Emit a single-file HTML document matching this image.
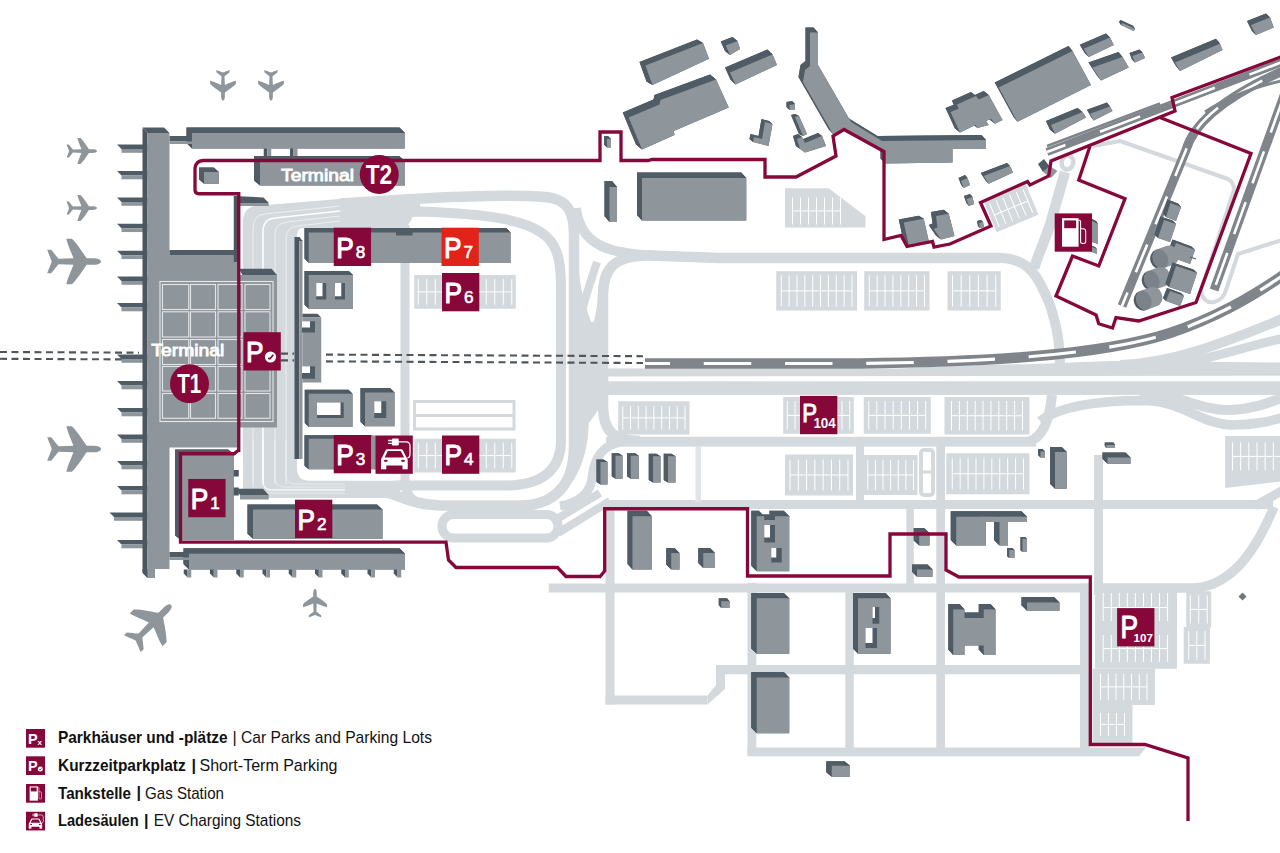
<!DOCTYPE html>
<html><head><meta charset="utf-8"><title>Airport parking map</title>
<style>
html,body{margin:0;padding:0;background:#fff;}
body{width:1280px;height:853px;overflow:hidden;font-family:"Liberation Sans",sans-serif;}
svg{display:block;}
</style></head><body>
<svg width="1280" height="853" viewBox="0 0 1280 853" font-family="Liberation Sans, sans-serif">
<rect width="1280" height="853" fill="#fff"/>
<g id="roads">
<path d="M243,498 L243,222 Q243,206 260,205.5 L345,198.5 L412,194.5 L412,219 L406,228 L303,228 Q297,228 297,236 L297,468 Q297,480 308,480.7 L400,480.7 L400,498 Z" fill="#d3d9dc"/>
<path d="M253,484 L253,229 Q253,215 265,214 L340,206 L398,202.2" stroke="#fff" stroke-opacity="0.60" stroke-width="1.0" fill="none"/>
<path d="M253,440 L253,484 Q253,493 262,493 L345,493" stroke="#fff" stroke-opacity="0.48" stroke-width="1.0" fill="none"/>
<path d="M263,484 L263,232 Q263,219 275,218 L340,211 L398,206.4" stroke="#fff" stroke-opacity="0.95" stroke-width="1.6" fill="none"/>
<path d="M263,440 L263,481 Q263,490 272,490 L345,490" stroke="#fff" stroke-opacity="0.76" stroke-width="1.6" fill="none"/>
<path d="M275,484 L275,235 Q275,223 287,222 L340,216 L398,210.6" stroke="#fff" stroke-opacity="0.60" stroke-width="1.0" fill="none"/>
<path d="M275,440 L275,478 Q275,487 284,487 L345,487" stroke="#fff" stroke-opacity="0.48" stroke-width="1.0" fill="none"/>
<path d="M286,484 L286,238 Q286,227 298,226 L340,221 L398,214.8" stroke="#fff" stroke-opacity="0.60" stroke-width="1.0" fill="none"/>
<path d="M286,440 L286,474 Q286,484 295,484 L345,484" stroke="#fff" stroke-opacity="0.48" stroke-width="1.0" fill="none"/>
<path d="M340,203.5 L405,199.5 C460,195.5 520,195 545,197 C568,199 574,212 574,235 L574,445 C574,485 555,505.5 520,505.5 L440,505.5 C410,505 395,492 375,490" fill="none" stroke="#d3d9dc" stroke-width="10.50" stroke-linecap="butt" stroke-linejoin="round" />
<path d="M340,217 L420,211.5 C490,214 530,220 548,238 C560,250 561,270 561,290 L561,440 C561,472 540,485.5 505,485.5 L395,485.5" fill="none" stroke="#d3d9dc" stroke-width="10.00" stroke-linecap="butt" stroke-linejoin="round" />
<path d="M340,210 L420,205" fill="none" stroke="#d3d9dc" stroke-width="8.00" stroke-linecap="butt" stroke-linejoin="round" />
<path d="M405,225 L405,482 C406,495 412,502 425,505" fill="none" stroke="#d3d9dc" stroke-width="9.00" stroke-linecap="butt" stroke-linejoin="round" />
<path d="M1000,258 L720,258 L650,255.5 C615,255 603,268 603,295 L603,405 C603,430 612,441 640,441" fill="none" stroke="#d3d9dc" stroke-width="10.50" stroke-linecap="butt" stroke-linejoin="round" />
<path d="M655,255.5 C605,254 580,243 576,208" fill="none" stroke="#d3d9dc" stroke-width="10.00" stroke-linecap="butt" stroke-linejoin="round" />
<path d="M603,285 C603,330 587,345 585,380 L584,420 C584,470 560,500 530,505.5" fill="none" stroke="#d3d9dc" stroke-width="9.50" stroke-linecap="butt" stroke-linejoin="round" />
<path d="M574,262 C574,312 598,335 602,385" fill="none" stroke="#d3d9dc" stroke-width="9.50" stroke-linecap="butt" stroke-linejoin="round" />
<path d="M597,262 C588,290 580,310 578,340" fill="none" stroke="#d3d9dc" stroke-width="8.00" stroke-linecap="butt" stroke-linejoin="round" />
<path d="M569,322 L608,322 L608,402 L598,410 L590,422 L569,422 Z" fill="#d3d9dc"/>
<rect x="442" y="514.5" width="116" height="23.5" rx="11.5" fill="none" stroke="#d3d9dc" stroke-width="9"/>
<path d="M552,522 L600,493" fill="none" stroke="#d3d9dc" stroke-width="8.00" stroke-linecap="butt" stroke-linejoin="round" />
<path d="M558,533 L610,501" fill="none" stroke="#d3d9dc" stroke-width="8.00" stroke-linecap="butt" stroke-linejoin="round" />
<path d="M628,441 C602,443 594,458 592,478 C590,495 578,503 560,506" fill="none" stroke="#d3d9dc" stroke-width="9.00" stroke-linecap="butt" stroke-linejoin="round" />
<path d="M604,368.5 L900,368.5 L960,365.5 L1035,364 L1110,361 L1180,361.5 L1280,362.5 L1280,375.8 L604,376.5 Z" fill="#d3d9dc"/>
<rect x="603.00" y="381.30" width="677.00" height="13.60" fill="#d3d9dc" />
<rect x="606.00" y="436.80" width="430.00" height="9.80" fill="#d3d9dc" />
<path d="M1030,441 C1045,436 1050,415 1052,395" fill="none" stroke="#d3d9dc" stroke-width="10.00" stroke-linecap="butt" stroke-linejoin="round" />
<path d="M1040,421 C1060,406 1100,400.5 1145,400.5 C1185,402 1200,424 1232,425 C1255,425 1270,421 1285,417" fill="none" stroke="#d3d9dc" stroke-width="9.50" stroke-linecap="butt" stroke-linejoin="round" />
<rect x="603.00" y="500.00" width="670.00" height="9.00" fill="#d3d9dc" />
<path d="M1255,506 L1285,489" fill="none" stroke="#d3d9dc" stroke-width="9.00" stroke-linecap="butt" stroke-linejoin="round" />
<path d="M1120,365 C1180,362 1230,340 1285,318" fill="none" stroke="#d3d9dc" stroke-width="10.00" stroke-linecap="butt" stroke-linejoin="round" />
<path d="M1170,366 C1215,358 1250,345 1285,338" fill="none" stroke="#d3d9dc" stroke-width="9.00" stroke-linecap="butt" stroke-linejoin="round" />
<path d="M1140,391 C1180,395 1200,410 1228,410 C1250,410 1270,402 1285,397" fill="none" stroke="#d3d9dc" stroke-width="10.00" stroke-linecap="butt" stroke-linejoin="round" />
<path d="M1000,258 C1030,258 1040,280 1050,305 C1058,330 1060,345 1060,370" fill="none" stroke="#d3d9dc" stroke-width="10.00" stroke-linecap="butt" stroke-linejoin="round" />
<path d="M1034,268 C1040,250 1045,240 1050,225 L1065,172" fill="none" stroke="#d3d9dc" stroke-width="10.50" stroke-linecap="butt" stroke-linejoin="round" />
<ellipse cx="1067.5" cy="162.5" rx="5.8" ry="7" fill="#fff" stroke="#d3d9dc" stroke-width="4.5" transform="rotate(15 1067.5 162.5)"/>
<path d="M1093,146 L1120,141 L1228,179 Q1234,182 1234,190 L1201,290 Q1203,304 1214,302 Q1223,300 1226,290 L1238,254 L1285,239" fill="none" stroke="#d3d9dc" stroke-width="4.00" stroke-linecap="butt" stroke-linejoin="round" />
<rect x="548.75" y="583.50" width="541.00" height="9.00" fill="#d3d9dc" />
<rect x="605.50" y="505.00" width="9.00" height="199.50" fill="#d3d9dc" />
<rect x="605.50" y="695.50" width="102.00" height="9.00" fill="#d3d9dc" />
<polygon points="707.50,695.50 716.00,685.00 716.00,665.00 725.00,665.00 725.00,689.00 707.50,704.50" fill="#d3d9dc" />
<rect x="716.00" y="665.00" width="374.00" height="9.30" fill="#d3d9dc" />
<rect x="747.50" y="583.00" width="8.80" height="173.00" fill="#d3d9dc" />
<rect x="747.50" y="747.50" width="392.00" height="8.80" fill="#d3d9dc" />
<polygon points="1139.00,747.50 1146.00,747.50 1139.00,756.30" fill="#d3d9dc" />
<rect x="845.30" y="592.00" width="8.50" height="160.00" fill="#d3d9dc" />
<rect x="936.30" y="446.00" width="8.70" height="305.00" fill="#d3d9dc" />
<rect x="906.30" y="505.00" width="7.50" height="79.00" fill="#d3d9dc" />
<rect x="856.00" y="446.00" width="8.00" height="56.00" fill="#d3d9dc" />
<rect x="1080.00" y="583.50" width="9.50" height="170.00" fill="#d3d9dc" />
<rect x="1094.00" y="455.00" width="9.00" height="140.00" fill="#d3d9dc" />
<rect x="695.50" y="446.00" width="5.50" height="56.00" fill="#e1e5e7" />
<rect x="921" y="450" width="12" height="45" rx="3" fill="#fff" stroke="#d3d9dc" stroke-width="4"/>
<path d="M921,472H933" stroke="#d3d9dc" stroke-width="3"/>
<path d="M1094,588 L1195,588 C1235,585 1258,545 1274,507" fill="none" stroke="#d3d9dc" stroke-width="9.50" stroke-linecap="butt" stroke-linejoin="round" />
</g>
<g id="lots">
<rect x="414.25" y="275.00" width="101.50" height="33.75" fill="#d3d9dc" />
<path d="M418.25,279.00V304.75M426.75,279.00V304.75M435.25,279.00V304.75M443.75,279.00V304.75M452.25,279.00V304.75M460.75,279.00V304.75M469.25,279.00V304.75M477.75,279.00V304.75M486.25,279.00V304.75M494.75,279.00V304.75M503.25,279.00V304.75M511.75,279.00V304.75M418.25,291.88H511.75" stroke="#fff" stroke-width="1" fill="none"/>
<rect x="414.25" y="438.75" width="101.50" height="33.75" fill="#d3d9dc" />
<path d="M418.25,442.75V468.50M426.75,442.75V468.50M435.25,442.75V468.50M443.75,442.75V468.50M452.25,442.75V468.50M460.75,442.75V468.50M469.25,442.75V468.50M477.75,442.75V468.50M486.25,442.75V468.50M494.75,442.75V468.50M503.25,442.75V468.50M511.75,442.75V468.50M418.25,455.62H511.75" stroke="#fff" stroke-width="1" fill="none"/>
<rect x="414.5" y="401.5" width="99.5" height="27.5" fill="#fff" stroke="#d3d9dc" stroke-width="3"/>
<path d="M414,415.5H514" stroke="#d3d9dc" stroke-width="3"/>
<rect x="776.25" y="271.25" width="80.75" height="39.25" fill="#d3d9dc" />
<path d="M781.25,275.25V306.50M789.11,275.25V306.50M796.97,275.25V306.50M804.83,275.25V306.50M812.69,275.25V306.50M820.56,275.25V306.50M828.42,275.25V306.50M836.28,275.25V306.50M844.14,275.25V306.50M852.00,275.25V306.50M781.25,290.88H852.00" stroke="#fff" stroke-width="1" fill="none"/>
<rect x="864.25" y="271.25" width="65.25" height="39.25" fill="#d3d9dc" />
<path d="M869.25,275.25V306.50M877.14,275.25V306.50M885.04,275.25V306.50M892.93,275.25V306.50M900.82,275.25V306.50M908.71,275.25V306.50M916.61,275.25V306.50M924.50,275.25V306.50M869.25,290.88H924.50" stroke="#fff" stroke-width="1" fill="none"/>
<rect x="947.50" y="271.25" width="53.25" height="39.25" fill="#d3d9dc" />
<path d="M952.50,275.25V306.50M961.15,275.25V306.50M969.80,275.25V306.50M978.45,275.25V306.50M987.10,275.25V306.50M995.75,275.25V306.50M952.50,290.88H995.75" stroke="#fff" stroke-width="1" fill="none"/>
<polygon points="785.00,188.25 828.75,188.25 865.50,216.25 865.50,227.50 785.00,227.50" fill="#d3d9dc" />
<path d="M792.50,197.50V224.50M800.50,197.50V224.50M808.50,197.50V224.50M816.50,197.50V224.50M824.50,197.50V224.50M832.50,197.50V224.50M840.50,197.50V224.50M792.50,211.00H840.50" stroke="#fff" stroke-width="1" fill="none"/>
<rect x="618.25" y="401.25" width="71.25" height="33.25" fill="#d3d9dc" />
<path d="M622.75,406.25V429.50M630.53,406.25V429.50M638.31,406.25V429.50M646.09,406.25V429.50M653.88,406.25V429.50M661.66,406.25V429.50M669.44,406.25V429.50M677.22,406.25V429.50M685.00,406.25V429.50M622.75,417.88H685.00" stroke="#fff" stroke-width="1" fill="none"/>
<rect x="783.25" y="397.00" width="70.50" height="36.75" fill="#d3d9dc" />
<path d="M787.25,401.00V429.75M795.06,401.00V429.75M802.88,401.00V429.75M810.69,401.00V429.75M818.50,401.00V429.75M826.31,401.00V429.75M834.12,401.00V429.75M841.94,401.00V429.75M849.75,401.00V429.75M787.25,415.38H849.75" stroke="#fff" stroke-width="1" fill="none"/>
<rect x="863.75" y="397.00" width="67.00" height="36.75" fill="#d3d9dc" />
<path d="M868.75,401.00V429.75M876.89,401.00V429.75M885.04,401.00V429.75M893.18,401.00V429.75M901.32,401.00V429.75M909.46,401.00V429.75M917.61,401.00V429.75M925.75,401.00V429.75M868.75,415.38H925.75" stroke="#fff" stroke-width="1" fill="none"/>
<rect x="944.50" y="397.00" width="85.00" height="37.50" fill="#d3d9dc" />
<path d="M951.50,401.00V430.50M959.39,401.00V430.50M967.28,401.00V430.50M975.17,401.00V430.50M983.06,401.00V430.50M990.94,401.00V430.50M998.83,401.00V430.50M1006.72,401.00V430.50M1014.61,401.00V430.50M1022.50,401.00V430.50M951.50,415.75H1022.50" stroke="#fff" stroke-width="1" fill="none"/>
<rect x="785.00" y="454.50" width="68.00" height="41.00" fill="#d3d9dc" />
<path d="M790.00,459.50V490.50M798.29,459.50V490.50M806.57,459.50V490.50M814.86,459.50V490.50M823.14,459.50V490.50M831.43,459.50V490.50M839.71,459.50V490.50M848.00,459.50V490.50M790.00,475.00H848.00" stroke="#fff" stroke-width="1" fill="none"/>
<rect x="863.75" y="455.00" width="53.75" height="40.00" fill="#d3d9dc" />
<path d="M867.75,460.00V490.00M875.38,460.00V490.00M883.00,460.00V490.00M890.62,460.00V490.00M898.25,460.00V490.00M905.88,460.00V490.00M913.50,460.00V490.00M867.75,475.00H913.50" stroke="#fff" stroke-width="1" fill="none"/>
<rect x="946.25" y="453.25" width="83.25" height="41.00" fill="#d3d9dc" />
<path d="M952.25,458.25V489.25M960.17,458.25V489.25M968.08,458.25V489.25M976.00,458.25V489.25M983.92,458.25V489.25M991.83,458.25V489.25M999.75,458.25V489.25M1007.67,458.25V489.25M1015.58,458.25V489.25M1023.50,458.25V489.25M952.25,473.75H1023.50" stroke="#fff" stroke-width="1" fill="none"/>
<polygon points="1225.20,436.00 1280.00,436.00 1280.00,481.50 1225.20,488.00" fill="#d3d9dc" />
<path d="M1232.50,442.25V470.50M1240.67,442.25V470.50M1248.83,442.25V470.50M1257.00,442.25V470.50M1265.17,442.25V470.50M1273.33,442.25V470.50M1281.50,442.25V470.50M1232.50,456.38H1281.50" stroke="#fff" stroke-width="1" fill="none"/>
<rect x="1095.00" y="591.25" width="82.00" height="77.50" fill="#d3d9dc" />
<path d="M1103.20,593V621M1103.20,635V662M1111.25,593V621M1111.25,635V662M1119.30,593V621M1119.30,635V662M1127.35,593V621M1127.35,635V662M1135.40,593V621M1135.40,635V662M1143.45,593V621M1143.45,635V662M1151.50,593V621M1151.50,635V662M1159.55,593V621M1159.55,635V662M1167.60,593V621M1167.60,635V662M1103.2,607.5H1167.6M1103.2,648.6H1167.6" stroke="#fff" stroke-width="1" fill="none"/>
<rect x="1092.50" y="668.75" width="62.50" height="36.25" fill="#d3d9dc" />
<path d="M1100.50,673.75V700.00M1108.25,673.75V700.00M1116.00,673.75V700.00M1123.75,673.75V700.00M1131.50,673.75V700.00M1139.25,673.75V700.00M1147.00,673.75V700.00M1100.50,686.88H1147.00" stroke="#fff" stroke-width="1" fill="none"/>
<rect x="1092.50" y="705.00" width="40.00" height="38.75" fill="#d3d9dc" />
<path d="M1100.50,713.00V735.75M1108.50,713.00V735.75M1116.50,713.00V735.75M1124.50,713.00V735.75M1100.50,724.38H1124.50" stroke="#fff" stroke-width="1" fill="none"/>
<rect x="1186.25" y="591.25" width="25.00" height="36.25" fill="#d3d9dc" />
<path d="M1190.25,595.25V623.50M1198.75,595.25V623.50M1207.25,595.25V623.50M1190.25,609.38H1207.25" stroke="#fff" stroke-width="1" fill="none"/>
<rect x="1183.75" y="627.00" width="26.25" height="36.75" fill="#d3d9dc" />
<path d="M1188.75,631.00V659.75M1196.88,631.00V659.75M1205.00,631.00V659.75M1188.75,645.38H1205.00" stroke="#fff" stroke-width="1" fill="none"/>
<g transform="translate(983.75,201.25) rotate(-22.7)">
<rect x="0.00" y="0.00" width="45.30" height="33.50" fill="#d3d9dc" />
<path d="M4.50,4.00V29.50M11.76,4.00V29.50M19.02,4.00V29.50M26.28,4.00V29.50M33.54,4.00V29.50M40.80,4.00V29.50M4.50,16.75H40.80" stroke="#fff" stroke-width="1" fill="none"/>
</g>
</g>
<g id="rail">
<path d="M0,352 L139,352.7 M281,353.6H294 M326,354.6 L643,356.2 M0,358.8 L139,359.5 M281,360.4H294 M326,361.4 L643,363" stroke="#4f5559" stroke-width="2.1" stroke-dasharray="7 4.5" fill="none"/>
<path d="M645,363.5 L860,363.5 C980,362 1100,356 1170,333 C1215,318 1250,298 1285,274" fill="none" stroke="#7f858b" stroke-width="10.50" stroke-linecap="butt" stroke-linejoin="round" />
<path d="M645,363.5 L860,363.5 C980,362 1100,356 1170,333 C1215,318 1250,298 1285,274" fill="none" stroke="#fff" stroke-width="3.20" stroke-linecap="butt" stroke-linejoin="round" stroke-dasharray="47.5 33.75" stroke-dashoffset="22.5"/>
<path d="M1047,152 L1285,61" fill="none" stroke="#7f858b" stroke-width="8.00" stroke-linecap="butt" stroke-linejoin="round" />
<path d="M1047,152 L1285,61" fill="none" stroke="#fff" stroke-width="2.60" stroke-linecap="butt" stroke-linejoin="round" stroke-dasharray="43 37" stroke-dashoffset="23.3"/>
<path d="M1047,146 L1160,103.5" fill="none" stroke="#7f858b" stroke-width="2.50" stroke-linecap="butt" stroke-linejoin="round" />
<path d="M1285,70 C1235,92 1195,118 1186,150 L1122,306" fill="none" stroke="#7f858b" stroke-width="9.00" stroke-linecap="butt" stroke-linejoin="round" />
<path d="M1285,70 C1235,92 1195,118 1186,150 L1122,306" fill="none" stroke="#fff" stroke-width="2.60" stroke-linecap="butt" stroke-linejoin="round" stroke-dasharray="30 22" stroke-dashoffset="-25"/>
<path d="M1285,80 C1250,88 1225,98 1205,112" fill="none" stroke="#7f858b" stroke-width="3.00" stroke-linecap="butt" stroke-linejoin="round" />
<path d="M1285,93 L1214,290" fill="none" stroke="#7f858b" stroke-width="9.00" stroke-linecap="butt" stroke-linejoin="round" />
<path d="M1285,93 L1214,290" fill="none" stroke="#fff" stroke-width="2.60" stroke-linecap="butt" stroke-linejoin="round" stroke-dasharray="34 20" stroke-dashoffset="-8"/>
</g>
<g id="bld">
<polygon points="192.00,133.00 405.00,133.00 399.50,127.50 186.50,127.50" fill="#505c65" />
<polygon points="405.00,133.00 405.00,148.50 399.50,143.00 399.50,127.50" fill="#4b5660" />
<polygon points="405.00,148.50 192.00,148.50 186.50,143.00 399.50,143.00" fill="#505c65" />
<polygon points="192.00,148.50 192.00,133.00 186.50,127.50 186.50,143.00" fill="#4b5660" />
<polygon points="186.50,127.50 399.50,127.50 399.50,143.00 186.50,143.00" fill="#505c65" />
<polygon points="192.00,133.00 405.00,133.00 405.00,148.50 192.00,148.50" fill="#8f969b" />
<rect x="169.50" y="136.00" width="22.50" height="5.50" fill="#505c65" />
<rect x="169.50" y="141.50" width="22.50" height="2.50" fill="#8f969b" />
<rect x="263.75" y="148.50" width="3.50" height="10.50" fill="#4b5660" />
<rect x="267.25" y="148.50" width="4.00" height="10.50" fill="#8f969b" />
<rect x="290.00" y="148.50" width="3.50" height="10.50" fill="#4b5660" />
<rect x="293.50" y="148.50" width="4.00" height="10.50" fill="#8f969b" />
<polygon points="260.00,161.00 405.00,161.00 399.00,156.00 254.00,156.00" fill="#505c65" />
<polygon points="405.00,161.00 405.00,185.50 399.00,180.50 399.00,156.00" fill="#4b5660" />
<polygon points="405.00,185.50 260.00,185.50 254.00,180.50 399.00,180.50" fill="#505c65" />
<polygon points="260.00,185.50 260.00,161.00 254.00,156.00 254.00,180.50" fill="#4b5660" />
<polygon points="254.00,156.00 399.00,156.00 399.00,180.50 254.00,180.50" fill="#505c65" />
<polygon points="260.00,161.00 405.00,161.00 405.00,185.50 260.00,185.50" fill="#8f969b" />
<polygon points="204.00,172.00 218.75,172.00 213.75,167.50 199.00,167.50" fill="#505c65" />
<polygon points="218.75,172.00 218.75,183.75 213.75,179.25 213.75,167.50" fill="#4b5660" />
<polygon points="218.75,183.75 204.00,183.75 199.00,179.25 213.75,179.25" fill="#505c65" />
<polygon points="204.00,183.75 204.00,172.00 199.00,167.50 199.00,179.25" fill="#4b5660" />
<polygon points="199.00,167.50 213.75,167.50 213.75,179.25 199.00,179.25" fill="#505c65" />
<polygon points="204.00,172.00 218.75,172.00 218.75,183.75 204.00,183.75" fill="#8f969b" />
<polygon points="117.00,144.50 147.50,144.50 147.50,149.00 121.50,149.00" fill="#505c65" />
<rect x="121.50" y="149.00" width="26.00" height="3.80" fill="#8f969b" />
<polygon points="117.00,171.00 147.50,171.00 147.50,175.50 121.50,175.50" fill="#505c65" />
<rect x="121.50" y="175.50" width="26.00" height="3.80" fill="#8f969b" />
<polygon points="117.00,197.50 147.50,197.50 147.50,202.00 121.50,202.00" fill="#505c65" />
<rect x="121.50" y="202.00" width="26.00" height="3.80" fill="#8f969b" />
<polygon points="117.00,223.75 147.50,223.75 147.50,228.25 121.50,228.25" fill="#505c65" />
<rect x="121.50" y="228.25" width="26.00" height="3.80" fill="#8f969b" />
<polygon points="117.00,250.75 147.50,250.75 147.50,255.25 121.50,255.25" fill="#505c65" />
<rect x="121.50" y="255.25" width="26.00" height="3.80" fill="#8f969b" />
<polygon points="117.00,276.50 147.50,276.50 147.50,281.00 121.50,281.00" fill="#505c65" />
<rect x="121.50" y="281.00" width="26.00" height="3.80" fill="#8f969b" />
<polygon points="117.00,303.00 147.50,303.00 147.50,307.50 121.50,307.50" fill="#505c65" />
<rect x="121.50" y="307.50" width="26.00" height="3.80" fill="#8f969b" />
<polygon points="117.00,354.50 147.50,354.50 147.50,359.00 121.50,359.00" fill="#505c65" />
<rect x="121.50" y="359.00" width="26.00" height="3.80" fill="#8f969b" />
<polygon points="117.00,381.00 147.50,381.00 147.50,385.50 121.50,385.50" fill="#505c65" />
<rect x="121.50" y="385.50" width="26.00" height="3.80" fill="#8f969b" />
<polygon points="117.00,408.00 147.50,408.00 147.50,412.50 121.50,412.50" fill="#505c65" />
<rect x="121.50" y="412.50" width="26.00" height="3.80" fill="#8f969b" />
<polygon points="117.00,434.50 147.50,434.50 147.50,439.00 121.50,439.00" fill="#505c65" />
<rect x="121.50" y="439.00" width="26.00" height="3.80" fill="#8f969b" />
<polygon points="117.00,461.00 147.50,461.00 147.50,465.50 121.50,465.50" fill="#505c65" />
<rect x="121.50" y="465.50" width="26.00" height="3.80" fill="#8f969b" />
<polygon points="117.00,486.00 147.50,486.00 147.50,490.50 121.50,490.50" fill="#505c65" />
<rect x="121.50" y="490.50" width="26.00" height="3.80" fill="#8f969b" />
<polygon points="109.50,512.50 147.50,512.50 147.50,517.00 114.00,517.00" fill="#505c65" />
<rect x="114.00" y="517.00" width="33.50" height="3.80" fill="#8f969b" />
<polygon points="117.00,540.00 147.50,540.00 147.50,544.50 121.50,544.50" fill="#505c65" />
<rect x="121.50" y="544.50" width="26.00" height="3.80" fill="#8f969b" />
<polygon points="142.50,127.50 164.00,127.50 169.50,133.00 147.50,133.00" fill="#505c65" />
<polygon points="142.50,127.50 147.50,133.00 147.50,578.00 142.50,572.00" fill="#4b5660" />
<rect x="147.50" y="133.00" width="22.00" height="436.00" fill="#8f969b" />
<rect x="147.50" y="569.00" width="7.50" height="9.00" fill="#8f969b" />
<polygon points="142.50,569.00 147.50,569.00 147.50,578.00 142.50,573.00" fill="#4b5660" />
<rect x="169.50" y="250.00" width="69.00" height="5.00" fill="#505c65" />
<rect x="168.50" y="255.00" width="70.50" height="192.50" fill="#8f969b" />
<polygon points="238.75,268.75 271.50,268.75 277.00,275.00 242.50,275.00" fill="#505c65" />
<rect x="238.75" y="275.00" width="38.25" height="152.50" fill="#8f969b" />
<polygon points="233.75,196.00 263.50,197.50 268.75,203.00 238.75,203.00" fill="#505c65" />
<rect x="238.75" y="203.00" width="30.00" height="3.00" fill="#8f969b" />
<rect x="233.75" y="196.00" width="5.00" height="66.00" fill="#4b5660" />
<rect x="160" y="281.5" width="113" height="140" fill="none" stroke="#e6e9eb" stroke-width="1.1"/>
<rect x="162.50" y="284.50" width="26.25" height="25.00" fill="none" stroke="#e3e6e8" stroke-width="1.1"/>
<rect x="162.50" y="311.80" width="26.25" height="25.20" fill="none" stroke="#e3e6e8" stroke-width="1.1"/>
<rect x="162.50" y="339.50" width="26.25" height="25.00" fill="none" stroke="#e3e6e8" stroke-width="1.1"/>
<rect x="162.50" y="366.50" width="26.25" height="24.50" fill="none" stroke="#e3e6e8" stroke-width="1.1"/>
<rect x="162.50" y="393.50" width="26.25" height="24.80" fill="none" stroke="#e3e6e8" stroke-width="1.1"/>
<rect x="190.50" y="284.50" width="25.00" height="25.00" fill="none" stroke="#e3e6e8" stroke-width="1.1"/>
<rect x="190.50" y="311.80" width="25.00" height="25.20" fill="none" stroke="#e3e6e8" stroke-width="1.1"/>
<rect x="190.50" y="339.50" width="25.00" height="25.00" fill="none" stroke="#e3e6e8" stroke-width="1.1"/>
<rect x="190.50" y="366.50" width="25.00" height="24.50" fill="none" stroke="#e3e6e8" stroke-width="1.1"/>
<rect x="190.50" y="393.50" width="25.00" height="24.80" fill="none" stroke="#e3e6e8" stroke-width="1.1"/>
<rect x="218.00" y="284.50" width="24.00" height="25.00" fill="none" stroke="#e3e6e8" stroke-width="1.1"/>
<rect x="218.00" y="311.80" width="24.00" height="25.20" fill="none" stroke="#e3e6e8" stroke-width="1.1"/>
<rect x="218.00" y="339.50" width="24.00" height="25.00" fill="none" stroke="#e3e6e8" stroke-width="1.1"/>
<rect x="218.00" y="366.50" width="24.00" height="24.50" fill="none" stroke="#e3e6e8" stroke-width="1.1"/>
<rect x="218.00" y="393.50" width="24.00" height="24.80" fill="none" stroke="#e3e6e8" stroke-width="1.1"/>
<rect x="245.00" y="284.50" width="25.00" height="25.00" fill="none" stroke="#e3e6e8" stroke-width="1.1"/>
<rect x="245.00" y="311.80" width="25.00" height="25.20" fill="none" stroke="#e3e6e8" stroke-width="1.1"/>
<rect x="245.00" y="339.50" width="25.00" height="25.00" fill="none" stroke="#e3e6e8" stroke-width="1.1"/>
<rect x="245.00" y="366.50" width="25.00" height="24.50" fill="none" stroke="#e3e6e8" stroke-width="1.1"/>
<rect x="245.00" y="393.50" width="25.00" height="24.80" fill="none" stroke="#e3e6e8" stroke-width="1.1"/>
<polygon points="181.00,454.00 234.00,454.00 228.00,449.50 175.00,449.50" fill="#505c65" />
<polygon points="234.00,454.00 234.00,540.00 228.00,535.50 228.00,449.50" fill="#4b5660" />
<polygon points="234.00,540.00 181.00,540.00 175.00,535.50 228.00,535.50" fill="#505c65" />
<polygon points="181.00,540.00 181.00,454.00 175.00,449.50 175.00,535.50" fill="#4b5660" />
<polygon points="175.00,449.50 228.00,449.50 228.00,535.50 175.00,535.50" fill="#505c65" />
<polygon points="181.00,454.00 234.00,454.00 234.00,540.00 181.00,540.00" fill="#8f969b" />
<rect x="233.75" y="470.00" width="5.00" height="6.50" fill="#4b5660" />
<rect x="233.75" y="487.50" width="5.00" height="8.00" fill="#4b5660" />
<polygon points="235.00,488.75 263.00,488.75 268.75,495.00 240.00,495.00" fill="#505c65" />
<rect x="240.00" y="495.00" width="28.75" height="4.50" fill="#8f969b" />
<polygon points="189.00,553.75 405.00,553.75 399.50,548.25 183.50,548.25" fill="#505c65" />
<polygon points="405.00,553.75 405.00,569.50 399.50,564.00 399.50,548.25" fill="#4b5660" />
<polygon points="405.00,569.50 189.00,569.50 183.50,564.00 399.50,564.00" fill="#505c65" />
<polygon points="189.00,569.50 189.00,553.75 183.50,548.25 183.50,564.00" fill="#4b5660" />
<polygon points="183.50,548.25 399.50,548.25 399.50,564.00 183.50,564.00" fill="#505c65" />
<polygon points="189.00,553.75 405.00,553.75 405.00,569.50 189.00,569.50" fill="#8f969b" />
<rect x="169.50" y="552.00" width="19.50" height="5.50" fill="#505c65" />
<rect x="169.50" y="557.50" width="19.50" height="2.50" fill="#8f969b" />
<polygon points="183.75,569.50 187.55,569.50 187.55,577.50 183.75,573.50" fill="#4b5660" />
<rect x="187.55" y="569.50" width="3.70" height="8.00" fill="#8f969b" />
<polygon points="210.00,569.50 213.80,569.50 213.80,577.50 210.00,573.50" fill="#4b5660" />
<rect x="213.80" y="569.50" width="3.70" height="8.00" fill="#8f969b" />
<polygon points="236.25,569.50 240.05,569.50 240.05,577.50 236.25,573.50" fill="#4b5660" />
<rect x="240.05" y="569.50" width="3.70" height="8.00" fill="#8f969b" />
<polygon points="262.50,569.50 266.30,569.50 266.30,577.50 262.50,573.50" fill="#4b5660" />
<rect x="266.30" y="569.50" width="3.70" height="8.00" fill="#8f969b" />
<polygon points="288.75,569.50 292.55,569.50 292.55,577.50 288.75,573.50" fill="#4b5660" />
<rect x="292.55" y="569.50" width="3.70" height="8.00" fill="#8f969b" />
<polygon points="315.00,569.50 318.80,569.50 318.80,577.50 315.00,573.50" fill="#4b5660" />
<rect x="318.80" y="569.50" width="3.70" height="8.00" fill="#8f969b" />
<polygon points="341.25,569.50 345.05,569.50 345.05,577.50 341.25,573.50" fill="#4b5660" />
<rect x="345.05" y="569.50" width="3.70" height="8.00" fill="#8f969b" />
<polygon points="367.50,569.50 371.30,569.50 371.30,577.50 367.50,573.50" fill="#4b5660" />
<rect x="371.30" y="569.50" width="3.70" height="8.00" fill="#8f969b" />
<polygon points="393.75,569.50 397.55,569.50 397.55,577.50 393.75,573.50" fill="#4b5660" />
<rect x="397.55" y="569.50" width="3.70" height="8.00" fill="#8f969b" />
<polygon points="253.00,509.50 382.50,509.50 377.00,504.50 247.50,504.50" fill="#505c65" />
<polygon points="382.50,509.50 382.50,538.75 377.00,533.75 377.00,504.50" fill="#4b5660" />
<polygon points="382.50,538.75 253.00,538.75 247.50,533.75 377.00,533.75" fill="#505c65" />
<polygon points="253.00,538.75 253.00,509.50 247.50,504.50 247.50,533.75" fill="#4b5660" />
<polygon points="247.50,504.50 377.00,504.50 377.00,533.75 247.50,533.75" fill="#505c65" />
<polygon points="253.00,509.50 382.50,509.50 382.50,538.75 253.00,538.75" fill="#8f969b" />
<polygon points="308.75,232.50 510.50,232.50 506.25,228.00 304.50,228.00" fill="#505c65" />
<polygon points="510.50,232.50 510.50,263.00 506.25,258.50 506.25,228.00" fill="#4b5660" />
<polygon points="510.50,263.00 308.75,263.00 304.50,258.50 506.25,258.50" fill="#505c65" />
<polygon points="308.75,263.00 308.75,232.50 304.50,228.00 304.50,258.50" fill="#4b5660" />
<polygon points="304.50,228.00 506.25,228.00 506.25,258.50 304.50,258.50" fill="#505c65" />
<polygon points="308.75,232.50 510.50,232.50 510.50,263.00 308.75,263.00" fill="#8f969b" />
<rect x="396.00" y="229.00" width="16.50" height="6.50" fill="#505c65" />
<polygon points="308.75,275.00 353.00,275.00 348.75,271.00 304.50,271.00" fill="#505c65" />
<polygon points="353.00,275.00 353.00,308.75 348.75,304.75 348.75,271.00" fill="#4b5660" />
<polygon points="353.00,308.75 308.75,308.75 304.50,304.75 348.75,304.75" fill="#505c65" />
<polygon points="308.75,308.75 308.75,275.00 304.50,271.00 304.50,304.75" fill="#4b5660" />
<polygon points="304.50,271.00 348.75,271.00 348.75,304.75 304.50,304.75" fill="#505c65" />
<polygon points="308.75,275.00 353.00,275.00 353.00,308.75 308.75,308.75" fill="#8f969b" />
<rect x="316.25" y="283.00" width="10.00" height="16.50" fill="#505c65" />
<rect x="316.25" y="283.00" width="6.25" height="13.25" fill="#fff" />
<rect x="335.00" y="283.00" width="10.00" height="16.50" fill="#505c65" />
<rect x="335.00" y="283.00" width="6.25" height="13.25" fill="#fff" />
<rect x="294.50" y="237.00" width="4.75" height="222.00" fill="#4b5660" />
<rect x="299.25" y="240.00" width="3.25" height="219.00" fill="#8f969b" />
<polygon points="294.50,237.00 299.50,237.00 302.50,241.00 299.25,241.00" fill="#505c65" />
<polygon points="302.50,313.75 317.50,313.75 321.25,317.50 302.50,317.50" fill="#505c65" />
<rect x="302.50" y="317.50" width="18.75" height="65.00" fill="#8f969b" />
<rect x="302.00" y="321.25" width="13.00" height="11.25" fill="#505c65" />
<rect x="302.00" y="321.25" width="8.00" height="6.25" fill="#fff" />
<rect x="302.00" y="366.25" width="13.00" height="12.50" fill="#505c65" />
<rect x="302.00" y="366.25" width="8.00" height="6.75" fill="#fff" />
<polygon points="308.75,393.75 352.50,393.75 348.50,389.75 304.75,389.75" fill="#505c65" />
<polygon points="352.50,393.75 352.50,427.00 348.50,423.00 348.50,389.75" fill="#4b5660" />
<polygon points="352.50,427.00 308.75,427.00 304.75,423.00 348.50,423.00" fill="#505c65" />
<polygon points="308.75,427.00 308.75,393.75 304.75,389.75 304.75,423.00" fill="#4b5660" />
<polygon points="304.75,389.75 348.50,389.75 348.50,423.00 304.75,423.00" fill="#505c65" />
<polygon points="308.75,393.75 352.50,393.75 352.50,427.00 308.75,427.00" fill="#8f969b" />
<rect x="317.00" y="402.50" width="26.75" height="15.50" fill="#505c65" />
<rect x="317.00" y="402.50" width="23.50" height="12.50" fill="#fff" />
<polygon points="365.00,392.50 394.50,392.50 390.00,388.00 360.50,388.00" fill="#505c65" />
<polygon points="394.50,392.50 394.50,426.25 390.00,421.75 390.00,388.00" fill="#4b5660" />
<polygon points="394.50,426.25 365.00,426.25 360.50,421.75 390.00,421.75" fill="#505c65" />
<polygon points="365.00,426.25 365.00,392.50 360.50,388.00 360.50,421.75" fill="#4b5660" />
<polygon points="360.50,388.00 390.00,388.00 390.00,421.75 360.50,421.75" fill="#505c65" />
<polygon points="365.00,392.50 394.50,392.50 394.50,426.25 365.00,426.25" fill="#8f969b" />
<rect x="374.25" y="401.25" width="12.00" height="16.75" fill="#505c65" />
<rect x="374.25" y="401.25" width="7.00" height="11.75" fill="#fff" />
<polygon points="308.75,438.75 376.00,438.75 371.75,435.25 304.50,435.25" fill="#505c65" />
<polygon points="376.00,438.75 376.00,469.25 371.75,465.75 371.75,435.25" fill="#4b5660" />
<polygon points="376.00,469.25 308.75,469.25 304.50,465.75 371.75,465.75" fill="#505c65" />
<polygon points="308.75,469.25 308.75,438.75 304.50,435.25 304.50,465.75" fill="#4b5660" />
<polygon points="304.50,435.25 371.75,435.25 371.75,465.75 304.50,465.75" fill="#505c65" />
<polygon points="308.75,438.75 376.00,438.75 376.00,469.25 308.75,469.25" fill="#8f969b" />
<rect x="369.00" y="435.50" width="7.00" height="30.00" fill="#8f969b" />
</g>
<g id="bld2">
<polygon points="645.50,65.50 703.00,43.00 697.00,39.50 639.50,62.00" fill="#505c65" />
<polygon points="703.00,43.00 709.00,58.75 703.00,55.25 697.00,39.50" fill="#4b5660" />
<polygon points="709.00,58.75 652.50,85.00 646.50,81.50 703.00,55.25" fill="#505c65" />
<polygon points="652.50,85.00 645.50,65.50 639.50,62.00 646.50,81.50" fill="#4b5660" />
<polygon points="639.50,62.00 697.00,39.50 703.00,55.25 646.50,81.50" fill="#505c65" />
<polygon points="645.50,65.50 703.00,43.00 709.00,58.75 652.50,85.00" fill="#8f969b" />
<polygon points="628.75,117.50 659.50,104.50 653.50,99.50 622.75,112.50" fill="#505c65" />
<polygon points="659.50,104.50 660.50,100.00 654.50,95.00 653.50,99.50" fill="#4b5660" />
<polygon points="660.50,100.00 716.00,79.50 710.00,74.50 654.50,95.00" fill="#505c65" />
<polygon points="716.00,79.50 728.75,107.50 722.75,102.50 710.00,74.50" fill="#4b5660" />
<polygon points="728.75,107.50 673.75,131.00 667.75,126.00 722.75,102.50" fill="#505c65" />
<polygon points="673.75,131.00 674.50,135.00 668.50,130.00 667.75,126.00" fill="#4b5660" />
<polygon points="674.50,135.00 642.00,149.50 636.00,144.50 668.50,130.00" fill="#505c65" />
<polygon points="642.00,149.50 628.75,117.50 622.75,112.50 636.00,144.50" fill="#4b5660" />
<polygon points="622.75,112.50 653.50,99.50 654.50,95.00 710.00,74.50 722.75,102.50 667.75,126.00 668.50,130.00 636.00,144.50" fill="#505c65" />
<polygon points="628.75,117.50 659.50,104.50 660.50,100.00 716.00,79.50 728.75,107.50 673.75,131.00 674.50,135.00 642.00,149.50" fill="#8f969b" />
<polygon points="725.75,45.50 737.50,41.00 732.50,37.00 720.75,41.50" fill="#505c65" />
<polygon points="737.50,41.00 740.00,49.00 735.00,45.00 732.50,37.00" fill="#4b5660" />
<polygon points="740.00,49.00 730.00,55.00 725.00,51.00 735.00,45.00" fill="#505c65" />
<polygon points="730.00,55.00 725.75,45.50 720.75,41.50 725.00,51.00" fill="#4b5660" />
<polygon points="720.75,41.50 732.50,37.00 735.00,45.00 725.00,51.00" fill="#505c65" />
<polygon points="725.75,45.50 737.50,41.00 740.00,49.00 730.00,55.00" fill="#8f969b" />
<polygon points="730.00,72.50 772.50,54.50 767.50,49.50 725.00,67.50" fill="#505c65" />
<polygon points="772.50,54.50 777.00,65.00 772.00,60.00 767.50,49.50" fill="#4b5660" />
<polygon points="777.00,65.00 735.50,84.50 730.50,79.50 772.00,60.00" fill="#505c65" />
<polygon points="735.50,84.50 730.00,72.50 725.00,67.50 730.50,79.50" fill="#4b5660" />
<polygon points="725.00,67.50 767.50,49.50 772.00,60.00 730.50,79.50" fill="#505c65" />
<polygon points="730.00,72.50 772.50,54.50 777.00,65.00 735.50,84.50" fill="#8f969b" />
<polygon points="810.00,32.50 818.00,32.50 813.50,27.50 805.50,27.50" fill="#505c65" />
<polygon points="818.00,32.50 818.00,65.00 813.50,60.00 813.50,27.50" fill="#4b5660" />
<polygon points="818.00,65.00 851.00,122.00 846.50,117.00 813.50,60.00" fill="#4b5660" />
<polygon points="851.00,122.00 882.00,141.00 877.50,136.00 846.50,117.00" fill="#505c65" />
<polygon points="882.00,141.00 986.00,140.00 981.50,135.00 877.50,136.00" fill="#505c65" />
<polygon points="986.00,140.00 986.00,149.00 981.50,144.00 981.50,135.00" fill="#4b5660" />
<polygon points="986.00,149.00 952.50,149.00 948.00,144.00 981.50,144.00" fill="#505c65" />
<polygon points="952.50,149.00 952.50,162.50 948.00,157.50 948.00,144.00" fill="#4b5660" />
<polygon points="952.50,162.50 885.00,163.50 880.50,158.50 948.00,157.50" fill="#505c65" />
<polygon points="885.00,163.50 885.00,152.00 880.50,147.00 880.50,158.50" fill="#4b5660" />
<polygon points="885.00,152.00 844.00,129.50 839.50,124.50 880.50,147.00" fill="#505c65" />
<polygon points="844.00,129.50 833.00,134.00 828.50,129.00 839.50,124.50" fill="#505c65" />
<polygon points="833.00,134.00 803.00,82.00 798.50,77.00 828.50,129.00" fill="#4b5660" />
<polygon points="803.00,82.00 805.00,70.00 800.50,65.00 798.50,77.00" fill="#4b5660" />
<polygon points="805.00,70.00 810.00,66.00 805.50,61.00 800.50,65.00" fill="#505c65" />
<polygon points="810.00,66.00 810.00,32.50 805.50,27.50 805.50,61.00" fill="#4b5660" />
<polygon points="805.50,27.50 813.50,27.50 813.50,60.00 846.50,117.00 877.50,136.00 981.50,135.00 981.50,144.00 948.00,144.00 948.00,157.50 880.50,158.50 880.50,147.00 839.50,124.50 828.50,129.00 798.50,77.00 800.50,65.00 805.50,61.00" fill="#505c65" />
<polygon points="810.00,32.50 818.00,32.50 818.00,65.00 851.00,122.00 882.00,141.00 986.00,140.00 986.00,149.00 952.50,149.00 952.50,162.50 885.00,163.50 885.00,152.00 844.00,129.50 833.00,134.00 803.00,82.00 805.00,70.00 810.00,66.00" fill="#8f969b" />
<polygon points="789.50,105.00 795.00,104.00 792.00,101.00 786.50,102.00" fill="#505c65" />
<polygon points="795.00,104.00 795.00,110.00 792.00,107.00 792.00,101.00" fill="#4b5660" />
<polygon points="795.00,110.00 789.50,110.00 786.50,107.00 792.00,107.00" fill="#505c65" />
<polygon points="789.50,110.00 789.50,105.00 786.50,102.00 786.50,107.00" fill="#4b5660" />
<polygon points="786.50,102.00 792.00,101.00 792.00,107.00 786.50,107.00" fill="#505c65" />
<polygon points="789.50,105.00 795.00,104.00 795.00,110.00 789.50,110.00" fill="#8f969b" />
<polygon points="765.00,122.00 772.50,124.00 769.00,121.00 761.50,119.00" fill="#505c65" />
<polygon points="772.50,124.00 768.50,146.00 765.00,143.00 769.00,121.00" fill="#4b5660" />
<polygon points="768.50,146.00 753.00,142.00 749.50,139.00 765.00,143.00" fill="#505c65" />
<polygon points="753.00,142.00 754.00,137.00 750.50,134.00 749.50,139.00" fill="#4b5660" />
<polygon points="754.00,137.00 762.00,139.00 758.50,136.00 750.50,134.00" fill="#505c65" />
<polygon points="762.00,139.00 765.00,122.00 761.50,119.00 758.50,136.00" fill="#4b5660" />
<polygon points="761.50,119.00 769.00,121.00 765.00,143.00 749.50,139.00 750.50,134.00 758.50,136.00" fill="#505c65" />
<polygon points="765.00,122.00 772.50,124.00 768.50,146.00 753.00,142.00 754.00,137.00 762.00,139.00" fill="#8f969b" />
<polygon points="795.00,117.00 799.00,116.00 795.00,114.00 791.00,115.00" fill="#505c65" />
<polygon points="799.00,116.00 807.00,134.00 803.00,132.00 795.00,114.00" fill="#4b5660" />
<polygon points="807.00,134.00 803.00,136.00 799.00,134.00 803.00,132.00" fill="#505c65" />
<polygon points="803.00,136.00 795.00,117.00 791.00,115.00 799.00,134.00" fill="#4b5660" />
<polygon points="791.00,115.00 795.00,114.00 803.00,132.00 799.00,134.00" fill="#505c65" />
<polygon points="795.00,117.00 799.00,116.00 807.00,134.00 803.00,136.00" fill="#8f969b" />
<polygon points="797.00,139.00 802.00,137.00 798.00,134.00 793.00,136.00" fill="#505c65" />
<polygon points="802.00,137.00 805.00,143.00 801.00,140.00 798.00,134.00" fill="#4b5660" />
<polygon points="805.00,143.00 822.00,136.00 818.00,133.00 801.00,140.00" fill="#505c65" />
<polygon points="822.00,136.00 826.00,146.00 822.00,143.00 818.00,133.00" fill="#4b5660" />
<polygon points="826.00,146.00 805.00,152.50 801.00,149.50 822.00,143.00" fill="#505c65" />
<polygon points="805.00,152.50 800.00,149.00 796.00,146.00 801.00,149.50" fill="#505c65" />
<polygon points="800.00,149.00 797.00,139.00 793.00,136.00 796.00,146.00" fill="#4b5660" />
<polygon points="793.00,136.00 798.00,134.00 801.00,140.00 818.00,133.00 822.00,143.00 801.00,149.50 796.00,146.00" fill="#505c65" />
<polygon points="797.00,139.00 802.00,137.00 805.00,143.00 822.00,136.00 826.00,146.00 805.00,152.50 800.00,149.00" fill="#8f969b" />
<polygon points="607.00,139.00 611.00,139.00 608.00,136.00 604.00,136.00" fill="#505c65" />
<polygon points="611.00,139.00 611.00,147.50 608.00,144.50 608.00,136.00" fill="#4b5660" />
<polygon points="611.00,147.50 607.00,147.50 604.00,144.50 608.00,144.50" fill="#505c65" />
<polygon points="607.00,147.50 607.00,139.00 604.00,136.00 604.00,144.50" fill="#4b5660" />
<polygon points="604.00,136.00 608.00,136.00 608.00,144.50 604.00,144.50" fill="#505c65" />
<polygon points="607.00,139.00 611.00,139.00 611.00,147.50 607.00,147.50" fill="#8f969b" />
<polygon points="642.00,178.00 746.25,178.00 741.25,172.50 637.00,172.50" fill="#505c65" />
<polygon points="746.25,178.00 746.25,220.50 741.25,215.00 741.25,172.50" fill="#4b5660" />
<polygon points="746.25,220.50 642.00,220.50 637.00,215.00 741.25,215.00" fill="#505c65" />
<polygon points="642.00,220.50 642.00,178.00 637.00,172.50 637.00,215.00" fill="#4b5660" />
<polygon points="637.00,172.50 741.25,172.50 741.25,215.00 637.00,215.00" fill="#505c65" />
<polygon points="642.00,178.00 746.25,178.00 746.25,220.50 642.00,220.50" fill="#8f969b" />
<polygon points="609.50,187.00 617.00,187.00 612.00,181.00 604.50,181.00" fill="#505c65" />
<polygon points="617.00,187.00 617.00,222.00 612.00,216.00 612.00,181.00" fill="#4b5660" />
<polygon points="617.00,222.00 609.50,222.00 604.50,216.00 612.00,216.00" fill="#505c65" />
<polygon points="609.50,222.00 609.50,187.00 604.50,181.00 604.50,216.00" fill="#4b5660" />
<polygon points="604.50,181.00 612.00,181.00 612.00,216.00 604.50,216.00" fill="#505c65" />
<polygon points="609.50,187.00 617.00,187.00 617.00,222.00 609.50,222.00" fill="#8f969b" />
<polygon points="998.75,87.50 1072.50,51.00 1068.50,46.00 994.75,82.50" fill="#505c65" />
<polygon points="1072.50,51.00 1091.00,85.00 1087.00,80.00 1068.50,46.00" fill="#4b5660" />
<polygon points="1091.00,85.00 1017.50,121.75 1013.50,116.75 1087.00,80.00" fill="#505c65" />
<polygon points="1017.50,121.75 998.75,87.50 994.75,82.50 1013.50,116.75" fill="#4b5660" />
<polygon points="994.75,82.50 1068.50,46.00 1087.00,80.00 1013.50,116.75" fill="#505c65" />
<polygon points="998.75,87.50 1072.50,51.00 1091.00,85.00 1017.50,121.75" fill="#8f969b" />
<polygon points="950.50,112.00 958.75,108.75 953.75,104.75 945.50,108.00" fill="#505c65" />
<polygon points="958.75,108.75 957.00,104.50 952.00,100.50 953.75,104.75" fill="#4b5660" />
<polygon points="957.00,104.50 976.00,96.00 971.00,92.00 952.00,100.50" fill="#505c65" />
<polygon points="976.00,96.00 978.75,99.50 973.75,95.50 971.00,92.00" fill="#4b5660" />
<polygon points="978.75,99.50 988.75,95.00 983.75,91.00 973.75,95.50" fill="#505c65" />
<polygon points="988.75,95.00 1002.50,120.00 997.50,116.00 983.75,91.00" fill="#4b5660" />
<polygon points="1002.50,120.00 995.00,123.75 990.00,119.75 997.50,116.00" fill="#505c65" />
<polygon points="995.00,123.75 991.00,118.75 986.00,114.75 990.00,119.75" fill="#4b5660" />
<polygon points="991.00,118.75 986.00,121.00 981.00,117.00 986.00,114.75" fill="#505c65" />
<polygon points="986.00,121.00 988.75,125.00 983.75,121.00 981.00,117.00" fill="#4b5660" />
<polygon points="988.75,125.00 977.50,128.00 972.50,124.00 983.75,121.00" fill="#505c65" />
<polygon points="977.50,128.00 975.50,125.00 970.50,121.00 972.50,124.00" fill="#4b5660" />
<polygon points="975.50,125.00 960.00,132.50 955.00,128.50 970.50,121.00" fill="#505c65" />
<polygon points="960.00,132.50 950.50,112.00 945.50,108.00 955.00,128.50" fill="#4b5660" />
<polygon points="945.50,108.00 953.75,104.75 952.00,100.50 971.00,92.00 973.75,95.50 983.75,91.00 997.50,116.00 990.00,119.75 986.00,114.75 981.00,117.00 983.75,121.00 972.50,124.00 970.50,121.00 955.00,128.50" fill="#505c65" />
<polygon points="950.50,112.00 958.75,108.75 957.00,104.50 976.00,96.00 978.75,99.50 988.75,95.00 1002.50,120.00 995.00,123.75 991.00,118.75 986.00,121.00 988.75,125.00 977.50,128.00 975.50,125.00 960.00,132.50" fill="#8f969b" />
<polygon points="1083.75,48.75 1110.00,37.50 1106.00,33.50 1079.75,44.75" fill="#505c65" />
<polygon points="1110.00,37.50 1113.75,45.00 1109.75,41.00 1106.00,33.50" fill="#4b5660" />
<polygon points="1113.75,45.00 1088.75,57.00 1084.75,53.00 1109.75,41.00" fill="#505c65" />
<polygon points="1088.75,57.00 1083.75,48.75 1079.75,44.75 1084.75,53.00" fill="#4b5660" />
<polygon points="1079.75,44.75 1106.00,33.50 1109.75,41.00 1084.75,53.00" fill="#505c65" />
<polygon points="1083.75,48.75 1110.00,37.50 1113.75,45.00 1088.75,57.00" fill="#8f969b" />
<polygon points="1092.50,67.50 1122.50,57.00 1118.50,52.00 1088.50,62.50" fill="#505c65" />
<polygon points="1122.50,57.00 1128.75,67.50 1124.75,62.50 1118.50,52.00" fill="#4b5660" />
<polygon points="1128.75,67.50 1101.00,80.50 1097.00,75.50 1124.75,62.50" fill="#505c65" />
<polygon points="1101.00,80.50 1092.50,67.50 1088.50,62.50 1097.00,75.50" fill="#4b5660" />
<polygon points="1088.50,62.50 1118.50,52.00 1124.75,62.50 1097.00,75.50" fill="#505c65" />
<polygon points="1092.50,67.50 1122.50,57.00 1128.75,67.50 1101.00,80.50" fill="#8f969b" />
<polygon points="1132.50,56.00 1142.50,52.50 1139.50,49.50 1129.50,53.00" fill="#505c65" />
<polygon points="1142.50,52.50 1145.00,58.00 1142.00,55.00 1139.50,49.50" fill="#4b5660" />
<polygon points="1145.00,58.00 1135.00,62.50 1132.00,59.50 1142.00,55.00" fill="#505c65" />
<polygon points="1135.00,62.50 1132.50,56.00 1129.50,53.00 1132.00,59.50" fill="#4b5660" />
<polygon points="1129.50,53.00 1139.50,49.50 1142.00,55.00 1132.00,59.50" fill="#505c65" />
<polygon points="1132.50,56.00 1142.50,52.50 1145.00,58.00 1135.00,62.50" fill="#8f969b" />
<polygon points="1122.50,23.00 1135.00,28.75 1133.00,25.75 1120.50,20.00" fill="#505c65" />
<polygon points="1135.00,28.75 1133.75,31.00 1131.75,28.00 1133.00,25.75" fill="#4b5660" />
<polygon points="1133.75,31.00 1121.00,25.00 1119.00,22.00 1131.75,28.00" fill="#505c65" />
<polygon points="1121.00,25.00 1122.50,23.00 1120.50,20.00 1119.00,22.00" fill="#4b5660" />
<polygon points="1120.50,20.00 1133.00,25.75 1131.75,28.00 1119.00,22.00" fill="#505c65" />
<polygon points="1122.50,23.00 1135.00,28.75 1133.75,31.00 1121.00,25.00" fill="#8f969b" />
<polygon points="1051.00,125.00 1082.50,112.00 1077.50,108.00 1046.00,121.00" fill="#505c65" />
<polygon points="1082.50,112.00 1086.00,117.50 1081.00,113.50 1077.50,108.00" fill="#4b5660" />
<polygon points="1086.00,117.50 1055.00,133.75 1050.00,129.75 1081.00,113.50" fill="#505c65" />
<polygon points="1055.00,133.75 1051.00,125.00 1046.00,121.00 1050.00,129.75" fill="#4b5660" />
<polygon points="1046.00,121.00 1077.50,108.00 1081.00,113.50 1050.00,129.75" fill="#505c65" />
<polygon points="1051.00,125.00 1082.50,112.00 1086.00,117.50 1055.00,133.75" fill="#8f969b" />
<polygon points="1090.00,113.75 1110.00,106.50 1107.00,102.50 1087.00,109.75" fill="#505c65" />
<polygon points="1110.00,106.50 1112.50,111.00 1109.50,107.00 1107.00,102.50" fill="#4b5660" />
<polygon points="1112.50,111.00 1093.75,120.50 1090.75,116.50 1109.50,107.00" fill="#505c65" />
<polygon points="1093.75,120.50 1090.00,113.75 1087.00,109.75 1090.75,116.50" fill="#4b5660" />
<polygon points="1087.00,109.75 1107.00,102.50 1109.50,107.00 1090.75,116.50" fill="#505c65" />
<polygon points="1090.00,113.75 1110.00,106.50 1112.50,111.00 1093.75,120.50" fill="#8f969b" />
<polygon points="1175.00,62.50 1220.00,43.75 1216.00,38.75 1171.00,57.50" fill="#505c65" />
<polygon points="1220.00,43.75 1222.50,50.00 1218.50,45.00 1216.00,38.75" fill="#4b5660" />
<polygon points="1222.50,50.00 1180.00,71.00 1176.00,66.00 1218.50,45.00" fill="#505c65" />
<polygon points="1180.00,71.00 1175.00,62.50 1171.00,57.50 1176.00,66.00" fill="#4b5660" />
<polygon points="1171.00,57.50 1216.00,38.75 1218.50,45.00 1176.00,66.00" fill="#505c65" />
<polygon points="1175.00,62.50 1220.00,43.75 1222.50,50.00 1180.00,71.00" fill="#8f969b" />
<polygon points="1251.00,25.00 1270.00,17.50 1266.00,13.50 1247.00,21.00" fill="#505c65" />
<polygon points="1270.00,17.50 1273.75,27.50 1269.75,23.50 1266.00,13.50" fill="#4b5660" />
<polygon points="1273.75,27.50 1256.00,35.00 1252.00,31.00 1269.75,23.50" fill="#505c65" />
<polygon points="1256.00,35.00 1251.00,25.00 1247.00,21.00 1252.00,31.00" fill="#4b5660" />
<polygon points="1247.00,21.00 1266.00,13.50 1269.75,23.50 1252.00,31.00" fill="#505c65" />
<polygon points="1251.00,25.00 1270.00,17.50 1273.75,27.50 1256.00,35.00" fill="#8f969b" />
<polygon points="983.75,176.00 1010.00,166.00 1007.00,163.00 980.75,173.00" fill="#505c65" />
<polygon points="1010.00,166.00 1013.00,172.50 1010.00,169.50 1007.00,163.00" fill="#4b5660" />
<polygon points="1013.00,172.50 988.75,183.75 985.75,180.75 1010.00,169.50" fill="#505c65" />
<polygon points="988.75,183.75 983.75,176.00 980.75,173.00 985.75,180.75" fill="#4b5660" />
<polygon points="980.75,173.00 1007.00,163.00 1010.00,169.50 985.75,180.75" fill="#505c65" />
<polygon points="983.75,176.00 1010.00,166.00 1013.00,172.50 988.75,183.75" fill="#8f969b" />
<polygon points="961.00,181.00 967.50,178.00 965.00,175.00 958.50,178.00" fill="#505c65" />
<polygon points="967.50,178.00 970.00,185.00 967.50,182.00 965.00,175.00" fill="#4b5660" />
<polygon points="970.00,185.00 963.75,188.00 961.25,185.00 967.50,182.00" fill="#505c65" />
<polygon points="963.75,188.00 961.00,181.00 958.50,178.00 961.25,185.00" fill="#4b5660" />
<polygon points="958.50,178.00 965.00,175.00 967.50,182.00 961.25,185.00" fill="#505c65" />
<polygon points="961.00,181.00 967.50,178.00 970.00,185.00 963.75,188.00" fill="#8f969b" />
<polygon points="966.50,199.00 972.50,197.00 970.00,194.00 964.00,196.00" fill="#505c65" />
<polygon points="972.50,197.00 974.00,204.00 971.50,201.00 970.00,194.00" fill="#4b5660" />
<polygon points="974.00,204.00 969.00,206.00 966.50,203.00 971.50,201.00" fill="#505c65" />
<polygon points="969.00,206.00 966.50,199.00 964.00,196.00 966.50,203.00" fill="#4b5660" />
<polygon points="964.00,196.00 970.00,194.00 971.50,201.00 966.50,203.00" fill="#505c65" />
<polygon points="966.50,199.00 972.50,197.00 974.00,204.00 969.00,206.00" fill="#8f969b" />
<polygon points="979.00,223.00 983.00,222.00 981.00,220.00 977.00,221.00" fill="#505c65" />
<polygon points="983.00,222.00 984.00,227.00 982.00,225.00 981.00,220.00" fill="#4b5660" />
<polygon points="984.00,227.00 980.00,228.00 978.00,226.00 982.00,225.00" fill="#505c65" />
<polygon points="980.00,228.00 979.00,223.00 977.00,221.00 978.00,226.00" fill="#4b5660" />
<polygon points="977.00,221.00 981.00,220.00 982.00,225.00 978.00,226.00" fill="#505c65" />
<polygon points="979.00,223.00 983.00,222.00 984.00,227.00 980.00,228.00" fill="#8f969b" />
<polygon points="1038.00,164.00 1044.00,159.00 1050.00,167.00 1043.00,172.00" fill="#505c65" />
<polygon points="1049.50,166.00 1057.50,171.00 1051.00,178.00 1043.00,172.00" fill="#8f969b" />
<polygon points="903.75,222.50 923.75,218.75 918.75,215.75 898.75,219.50" fill="#505c65" />
<polygon points="923.75,218.75 928.75,241.00 923.75,238.00 918.75,215.75" fill="#4b5660" />
<polygon points="928.75,241.00 908.75,245.00 903.75,242.00 923.75,238.00" fill="#505c65" />
<polygon points="908.75,245.00 903.75,222.50 898.75,219.50 903.75,242.00" fill="#4b5660" />
<polygon points="898.75,219.50 918.75,215.75 923.75,238.00 903.75,242.00" fill="#505c65" />
<polygon points="903.75,222.50 923.75,218.75 928.75,241.00 908.75,245.00" fill="#8f969b" />
<polygon points="936.00,216.00 948.75,213.75 943.75,209.75 931.00,212.00" fill="#505c65" />
<polygon points="948.75,213.75 954.50,236.00 949.50,232.00 943.75,209.75" fill="#4b5660" />
<polygon points="954.50,236.00 941.00,239.50 936.00,235.50 949.50,232.00" fill="#505c65" />
<polygon points="941.00,239.50 933.75,229.00 928.75,225.00 936.00,235.50" fill="#4b5660" />
<polygon points="933.75,229.00 937.50,227.50 932.50,223.50 928.75,225.00" fill="#505c65" />
<polygon points="937.50,227.50 936.00,216.00 931.00,212.00 932.50,223.50" fill="#4b5660" />
<polygon points="931.00,212.00 943.75,209.75 949.50,232.00 936.00,235.50 928.75,225.00 932.50,223.50" fill="#505c65" />
<polygon points="936.00,216.00 948.75,213.75 954.50,236.00 941.00,239.50 933.75,229.00 937.50,227.50" fill="#8f969b" />
<polygon points="632.50,516.25 651.75,516.25 646.75,510.75 627.50,510.75" fill="#505c65" />
<polygon points="651.75,516.25 651.75,569.50 646.75,564.00 646.75,510.75" fill="#4b5660" />
<polygon points="651.75,569.50 632.50,569.50 627.50,564.00 646.75,564.00" fill="#505c65" />
<polygon points="632.50,569.50 632.50,516.25 627.50,510.75 627.50,564.00" fill="#4b5660" />
<polygon points="627.50,510.75 646.75,510.75 646.75,564.00 627.50,564.00" fill="#505c65" />
<polygon points="632.50,516.25 651.75,516.25 651.75,569.50 632.50,569.50" fill="#8f969b" />
<polygon points="671.25,553.00 679.50,553.00 674.50,548.00 666.25,548.00" fill="#505c65" />
<polygon points="679.50,553.00 679.50,569.50 674.50,564.50 674.50,548.00" fill="#4b5660" />
<polygon points="679.50,569.50 671.25,569.50 666.25,564.50 674.50,564.50" fill="#505c65" />
<polygon points="671.25,569.50 671.25,553.00 666.25,548.00 666.25,564.50" fill="#4b5660" />
<polygon points="666.25,548.00 674.50,548.00 674.50,564.50 666.25,564.50" fill="#505c65" />
<polygon points="671.25,553.00 679.50,553.00 679.50,569.50 671.25,569.50" fill="#8f969b" />
<polygon points="703.25,553.00 715.00,553.00 710.00,548.00 698.25,548.00" fill="#505c65" />
<polygon points="715.00,553.00 715.00,568.00 710.00,563.00 710.00,548.00" fill="#4b5660" />
<polygon points="715.00,568.00 703.25,568.00 698.25,563.00 710.00,563.00" fill="#505c65" />
<polygon points="703.25,568.00 703.25,553.00 698.25,548.00 698.25,563.00" fill="#4b5660" />
<polygon points="698.25,548.00 710.00,548.00 710.00,563.00 698.25,563.00" fill="#505c65" />
<polygon points="703.25,553.00 715.00,553.00 715.00,568.00 703.25,568.00" fill="#8f969b" />
<polygon points="756.75,516.25 764.25,516.25 758.75,510.75 751.25,510.75" fill="#505c65" />
<polygon points="764.25,516.25 764.25,520.00 758.75,514.50 758.75,510.75" fill="#4b5660" />
<polygon points="764.25,520.00 775.00,520.00 769.50,514.50 758.75,514.50" fill="#505c65" />
<polygon points="775.00,520.00 775.00,516.25 769.50,510.75 769.50,514.50" fill="#4b5660" />
<polygon points="775.00,516.25 789.25,516.25 783.75,510.75 769.50,510.75" fill="#505c65" />
<polygon points="789.25,516.25 789.25,571.25 783.75,565.75 783.75,510.75" fill="#4b5660" />
<polygon points="789.25,571.25 756.75,571.25 751.25,565.75 783.75,565.75" fill="#505c65" />
<polygon points="756.75,571.25 756.75,516.25 751.25,510.75 751.25,565.75" fill="#4b5660" />
<polygon points="751.25,510.75 758.75,510.75 758.75,514.50 769.50,514.50 769.50,510.75 783.75,510.75 783.75,565.75 751.25,565.75" fill="#505c65" />
<polygon points="756.75,516.25 764.25,516.25 764.25,520.00 775.00,520.00 775.00,516.25 789.25,516.25 789.25,571.25 756.75,571.25" fill="#8f969b" />
<rect x="764.25" y="525.00" width="10.75" height="17.50" fill="#505c65" />
<rect x="764.25" y="525.00" width="5.75" height="12.50" fill="#fff" />
<rect x="771.25" y="548.00" width="10.50" height="14.50" fill="#505c65" />
<rect x="771.25" y="548.00" width="5.00" height="9.50" fill="#fff" />
<polygon points="721.25,601.25 729.50,601.25 727.00,598.25 718.75,598.25" fill="#505c65" />
<polygon points="729.50,601.25 729.50,608.00 727.00,605.00 727.00,598.25" fill="#4b5660" />
<polygon points="729.50,608.00 721.25,608.00 718.75,605.00 727.00,605.00" fill="#505c65" />
<polygon points="721.25,608.00 721.25,601.25 718.75,598.25 718.75,605.00" fill="#4b5660" />
<polygon points="718.75,598.25 727.00,598.25 727.00,605.00 718.75,605.00" fill="#505c65" />
<polygon points="721.25,601.25 729.50,601.25 729.50,608.00 721.25,608.00" fill="#8f969b" />
<polygon points="756.75,598.25 789.25,598.25 783.75,593.00 751.25,593.00" fill="#505c65" />
<polygon points="789.25,598.25 789.25,653.75 783.75,648.50 783.75,593.00" fill="#4b5660" />
<polygon points="789.25,653.75 756.75,653.75 751.25,648.50 783.75,648.50" fill="#505c65" />
<polygon points="756.75,653.75 756.75,598.25 751.25,593.00 751.25,648.50" fill="#4b5660" />
<polygon points="751.25,593.00 783.75,593.00 783.75,648.50 751.25,648.50" fill="#505c65" />
<polygon points="756.75,598.25 789.25,598.25 789.25,653.75 756.75,653.75" fill="#8f969b" />
<polygon points="756.75,677.50 789.25,677.50 783.75,672.00 751.25,672.00" fill="#505c65" />
<polygon points="789.25,677.50 789.25,733.25 783.75,727.75 783.75,672.00" fill="#4b5660" />
<polygon points="789.25,733.25 756.75,733.25 751.25,727.75 783.75,727.75" fill="#505c65" />
<polygon points="756.75,733.25 756.75,677.50 751.25,672.00 751.25,727.75" fill="#4b5660" />
<polygon points="751.25,672.00 783.75,672.00 783.75,727.75 751.25,727.75" fill="#505c65" />
<polygon points="756.75,677.50 789.25,677.50 789.25,733.25 756.75,733.25" fill="#8f969b" />
<polygon points="831.75,765.75 850.00,765.75 844.50,761.25 826.25,761.25" fill="#505c65" />
<polygon points="850.00,765.75 850.00,776.75 844.50,772.25 844.50,761.25" fill="#4b5660" />
<polygon points="850.00,776.75 831.75,776.75 826.25,772.25 844.50,772.25" fill="#505c65" />
<polygon points="831.75,776.75 831.75,765.75 826.25,761.25 826.25,772.25" fill="#4b5660" />
<polygon points="826.25,761.25 844.50,761.25 844.50,772.25 826.25,772.25" fill="#505c65" />
<polygon points="831.75,765.75 850.00,765.75 850.00,776.75 831.75,776.75" fill="#8f969b" />
<polygon points="858.00,598.25 890.50,598.25 885.50,593.00 853.00,593.00" fill="#505c65" />
<polygon points="890.50,598.25 890.50,653.75 885.50,648.50 885.50,593.00" fill="#4b5660" />
<polygon points="890.50,653.75 858.00,653.75 853.00,648.50 885.50,648.50" fill="#505c65" />
<polygon points="858.00,653.75 858.00,598.25 853.00,593.00 853.00,648.50" fill="#4b5660" />
<polygon points="853.00,593.00 885.50,593.00 885.50,648.50 853.00,648.50" fill="#505c65" />
<polygon points="858.00,598.25 890.50,598.25 890.50,653.75 858.00,653.75" fill="#8f969b" />
<rect x="872.50" y="607.00" width="6.75" height="16.75" fill="#505c65" />
<rect x="872.50" y="607.00" width="2.50" height="11.00" fill="#fff" />
<rect x="865.50" y="628.00" width="11.50" height="20.00" fill="#505c65" />
<rect x="865.50" y="628.00" width="7.00" height="15.00" fill="#fff" />
<polygon points="953.25,609.50 964.50,609.50 959.50,604.00 948.25,604.00" fill="#505c65" />
<polygon points="964.50,609.50 964.50,618.00 959.50,612.50 959.50,604.00" fill="#4b5660" />
<polygon points="964.50,618.00 983.75,618.00 978.75,612.50 959.50,612.50" fill="#505c65" />
<polygon points="983.75,618.00 983.75,609.50 978.75,604.00 978.75,612.50" fill="#4b5660" />
<polygon points="983.75,609.50 995.50,609.50 990.50,604.00 978.75,604.00" fill="#505c65" />
<polygon points="995.50,609.50 995.50,655.00 990.50,649.50 990.50,604.00" fill="#4b5660" />
<polygon points="995.50,655.00 983.75,655.00 978.75,649.50 990.50,649.50" fill="#505c65" />
<polygon points="983.75,655.00 983.75,645.50 978.75,640.00 978.75,649.50" fill="#4b5660" />
<polygon points="983.75,645.50 964.50,645.50 959.50,640.00 978.75,640.00" fill="#505c65" />
<polygon points="964.50,645.50 964.50,655.00 959.50,649.50 959.50,640.00" fill="#4b5660" />
<polygon points="964.50,655.00 953.25,655.00 948.25,649.50 959.50,649.50" fill="#505c65" />
<polygon points="953.25,655.00 953.25,609.50 948.25,604.00 948.25,649.50" fill="#4b5660" />
<polygon points="948.25,604.00 959.50,604.00 959.50,612.50 978.75,612.50 978.75,604.00 990.50,604.00 990.50,649.50 978.75,649.50 978.75,640.00 959.50,640.00 959.50,649.50 948.25,649.50" fill="#505c65" />
<polygon points="953.25,609.50 964.50,609.50 964.50,618.00 983.75,618.00 983.75,609.50 995.50,609.50 995.50,655.00 983.75,655.00 983.75,645.50 964.50,645.50 964.50,655.00 953.25,655.00" fill="#8f969b" />
<polygon points="1027.00,602.50 1059.50,602.50 1054.00,597.00 1021.50,597.00" fill="#505c65" />
<polygon points="1059.50,602.50 1059.50,610.75 1054.00,605.25 1054.00,597.00" fill="#4b5660" />
<polygon points="1059.50,610.75 1027.00,610.75 1021.50,605.25 1054.00,605.25" fill="#505c65" />
<polygon points="1027.00,610.75 1027.00,602.50 1021.50,597.00 1021.50,605.25" fill="#4b5660" />
<polygon points="1021.50,597.00 1054.00,597.00 1054.00,605.25 1021.50,605.25" fill="#505c65" />
<polygon points="1027.00,602.50 1059.50,602.50 1059.50,610.75 1027.00,610.75" fill="#8f969b" />
<polygon points="956.25,516.75 1027.00,516.75 1021.50,511.25 950.75,511.25" fill="#505c65" />
<polygon points="1027.00,516.75 1027.00,522.00 1021.50,516.50 1021.50,511.25" fill="#4b5660" />
<polygon points="1027.00,522.00 1008.00,522.00 1002.50,516.50 1021.50,516.50" fill="#505c65" />
<polygon points="1008.00,522.00 1008.00,545.50 1002.50,540.00 1002.50,516.50" fill="#4b5660" />
<polygon points="1008.00,545.50 999.50,545.50 994.00,540.00 1002.50,540.00" fill="#505c65" />
<polygon points="999.50,545.50 999.50,522.00 994.00,516.50 994.00,540.00" fill="#4b5660" />
<polygon points="999.50,522.00 985.75,522.00 980.25,516.50 994.00,516.50" fill="#505c65" />
<polygon points="985.75,522.00 985.75,545.50 980.25,540.00 980.25,516.50" fill="#4b5660" />
<polygon points="985.75,545.50 956.25,545.50 950.75,540.00 980.25,540.00" fill="#505c65" />
<polygon points="956.25,545.50 956.25,516.75 950.75,511.25 950.75,540.00" fill="#4b5660" />
<polygon points="950.75,511.25 1021.50,511.25 1021.50,516.50 1002.50,516.50 1002.50,540.00 994.00,540.00 994.00,516.50 980.25,516.50 980.25,540.00 950.75,540.00" fill="#505c65" />
<polygon points="956.25,516.75 1027.00,516.75 1027.00,522.00 1008.00,522.00 1008.00,545.50 999.50,545.50 999.50,522.00 985.75,522.00 985.75,545.50 956.25,545.50" fill="#8f969b" />
<polygon points="1009.25,550.00 1014.50,550.00 1012.25,548.00 1007.00,548.00" fill="#505c65" />
<polygon points="1014.50,550.00 1014.50,558.00 1012.25,556.00 1012.25,548.00" fill="#4b5660" />
<polygon points="1014.50,558.00 1009.25,558.00 1007.00,556.00 1012.25,556.00" fill="#505c65" />
<polygon points="1009.25,558.00 1009.25,550.00 1007.00,548.00 1007.00,556.00" fill="#4b5660" />
<polygon points="1007.00,548.00 1012.25,548.00 1012.25,556.00 1007.00,556.00" fill="#505c65" />
<polygon points="1009.25,550.00 1014.50,550.00 1014.50,558.00 1009.25,558.00" fill="#8f969b" />
<polygon points="1022.50,538.75 1027.00,538.75 1025.00,537.00 1020.50,537.00" fill="#505c65" />
<polygon points="1027.00,538.75 1027.00,552.00 1025.00,550.25 1025.00,537.00" fill="#4b5660" />
<polygon points="1027.00,552.00 1022.50,552.00 1020.50,550.25 1025.00,550.25" fill="#505c65" />
<polygon points="1022.50,552.00 1022.50,538.75 1020.50,537.00 1020.50,550.25" fill="#4b5660" />
<polygon points="1020.50,537.00 1025.00,537.00 1025.00,550.25 1020.50,550.25" fill="#505c65" />
<polygon points="1022.50,538.75 1027.00,538.75 1027.00,552.00 1022.50,552.00" fill="#8f969b" />
<polygon points="919.25,533.00 929.50,533.00 924.00,528.00 913.75,528.00" fill="#505c65" />
<polygon points="929.50,533.00 929.50,545.50 924.00,540.50 924.00,528.00" fill="#4b5660" />
<polygon points="929.50,545.50 919.25,545.50 913.75,540.50 924.00,540.50" fill="#505c65" />
<polygon points="919.25,545.50 919.25,533.00 913.75,528.00 913.75,540.50" fill="#4b5660" />
<polygon points="913.75,528.00 924.00,528.00 924.00,540.50 913.75,540.50" fill="#505c65" />
<polygon points="919.25,533.00 929.50,533.00 929.50,545.50 919.25,545.50" fill="#8f969b" />
<polygon points="917.00,569.50 932.50,569.50 927.50,564.50 912.00,564.50" fill="#505c65" />
<polygon points="932.50,569.50 932.50,576.75 927.50,571.75 927.50,564.50" fill="#4b5660" />
<polygon points="932.50,576.75 917.00,576.75 912.00,571.75 927.50,571.75" fill="#505c65" />
<polygon points="917.00,576.75 917.00,569.50 912.00,564.50 912.00,571.75" fill="#4b5660" />
<polygon points="912.00,564.50 927.50,564.50 927.50,571.75 912.00,571.75" fill="#505c65" />
<polygon points="917.00,569.50 932.50,569.50 932.50,576.75 917.00,576.75" fill="#8f969b" />
<polygon points="1055.00,452.00 1066.75,452.00 1061.75,447.00 1050.00,447.00" fill="#505c65" />
<polygon points="1066.75,452.00 1066.75,488.75 1061.75,483.75 1061.75,447.00" fill="#4b5660" />
<polygon points="1066.75,488.75 1055.00,488.75 1050.00,483.75 1061.75,483.75" fill="#505c65" />
<polygon points="1055.00,488.75 1055.00,452.00 1050.00,447.00 1050.00,483.75" fill="#4b5660" />
<polygon points="1050.00,447.00 1061.75,447.00 1061.75,483.75 1050.00,483.75" fill="#505c65" />
<polygon points="1055.00,452.00 1066.75,452.00 1066.75,488.75 1055.00,488.75" fill="#8f969b" />
<polygon points="1040.50,451.50 1045.00,451.50 1042.50,449.00 1038.00,449.00" fill="#505c65" />
<polygon points="1045.00,451.50 1045.00,457.50 1042.50,455.00 1042.50,449.00" fill="#4b5660" />
<polygon points="1045.00,457.50 1040.50,457.50 1038.00,455.00 1042.50,455.00" fill="#505c65" />
<polygon points="1040.50,457.50 1040.50,451.50 1038.00,449.00 1038.00,455.00" fill="#4b5660" />
<polygon points="1038.00,449.00 1042.50,449.00 1042.50,455.00 1038.00,455.00" fill="#505c65" />
<polygon points="1040.50,451.50 1045.00,451.50 1045.00,457.50 1040.50,457.50" fill="#8f969b" />
<polygon points="1107.50,457.50 1130.50,457.50 1125.50,452.50 1102.50,452.50" fill="#505c65" />
<polygon points="1130.50,457.50 1130.50,463.75 1125.50,458.75 1125.50,452.50" fill="#4b5660" />
<polygon points="1130.50,463.75 1107.50,463.75 1102.50,458.75 1125.50,458.75" fill="#505c65" />
<polygon points="1107.50,463.75 1107.50,457.50 1102.50,452.50 1102.50,458.75" fill="#4b5660" />
<polygon points="1102.50,452.50 1125.50,452.50 1125.50,458.75 1102.50,458.75" fill="#505c65" />
<polygon points="1107.50,457.50 1130.50,457.50 1130.50,463.75 1107.50,463.75" fill="#8f969b" />
<polygon points="1106.25,445.00 1115.00,445.00 1113.50,442.50 1104.75,442.50" fill="#505c65" />
<polygon points="1115.00,445.00 1115.00,448.00 1113.50,445.50 1113.50,442.50" fill="#4b5660" />
<polygon points="1115.00,448.00 1106.25,448.00 1104.75,445.50 1113.50,445.50" fill="#505c65" />
<polygon points="1106.25,448.00 1106.25,445.00 1104.75,442.50 1104.75,445.50" fill="#4b5660" />
<polygon points="1104.75,442.50 1113.50,442.50 1113.50,445.50 1104.75,445.50" fill="#505c65" />
<polygon points="1106.25,445.00 1115.00,445.00 1115.00,448.00 1106.25,448.00" fill="#8f969b" />
<polygon points="600.50,462.00 607.50,462.00 603.50,459.50 596.50,459.50" fill="#505c65" />
<polygon points="607.50,462.00 607.50,484.50 603.50,482.00 603.50,459.50" fill="#4b5660" />
<polygon points="607.50,484.50 600.50,484.50 596.50,482.00 603.50,482.00" fill="#505c65" />
<polygon points="600.50,484.50 600.50,462.00 596.50,459.50 596.50,482.00" fill="#4b5660" />
<polygon points="596.50,459.50 603.50,459.50 603.50,482.00 596.50,482.00" fill="#505c65" />
<polygon points="600.50,462.00 607.50,462.00 607.50,484.50 600.50,484.50" fill="#8f969b" />
<polygon points="615.50,455.75 622.50,455.75 618.75,453.25 611.75,453.25" fill="#505c65" />
<polygon points="622.50,455.75 622.50,478.75 618.75,476.25 618.75,453.25" fill="#4b5660" />
<polygon points="622.50,478.75 615.50,478.75 611.75,476.25 618.75,476.25" fill="#505c65" />
<polygon points="615.50,478.75 615.50,455.75 611.75,453.25 611.75,476.25" fill="#4b5660" />
<polygon points="611.75,453.25 618.75,453.25 618.75,476.25 611.75,476.25" fill="#505c65" />
<polygon points="615.50,455.75 622.50,455.75 622.50,478.75 615.50,478.75" fill="#8f969b" />
<polygon points="630.75,455.75 638.75,455.75 635.00,453.25 627.00,453.25" fill="#505c65" />
<polygon points="638.75,455.75 638.75,478.75 635.00,476.25 635.00,453.25" fill="#4b5660" />
<polygon points="638.75,478.75 630.75,478.75 627.00,476.25 635.00,476.25" fill="#505c65" />
<polygon points="630.75,478.75 630.75,455.75 627.00,453.25 627.00,476.25" fill="#4b5660" />
<polygon points="627.00,453.25 635.00,453.25 635.00,476.25 627.00,476.25" fill="#505c65" />
<polygon points="630.75,455.75 638.75,455.75 638.75,478.75 630.75,478.75" fill="#8f969b" />
<polygon points="653.00,456.25 660.50,456.25 656.25,453.75 648.75,453.75" fill="#505c65" />
<polygon points="660.50,456.25 660.50,482.50 656.25,480.00 656.25,453.75" fill="#4b5660" />
<polygon points="660.50,482.50 653.00,482.50 648.75,480.00 656.25,480.00" fill="#505c65" />
<polygon points="653.00,482.50 653.00,456.25 648.75,453.75 648.75,480.00" fill="#4b5660" />
<polygon points="648.75,453.75 656.25,453.75 656.25,480.00 648.75,480.00" fill="#505c65" />
<polygon points="653.00,456.25 660.50,456.25 660.50,482.50 653.00,482.50" fill="#8f969b" />
<polygon points="668.00,456.25 675.50,456.25 671.25,453.75 663.75,453.75" fill="#505c65" />
<polygon points="675.50,456.25 675.50,482.50 671.25,480.00 671.25,453.75" fill="#4b5660" />
<polygon points="675.50,482.50 668.00,482.50 663.75,480.00 671.25,480.00" fill="#505c65" />
<polygon points="668.00,482.50 668.00,456.25 663.75,453.75 663.75,480.00" fill="#4b5660" />
<polygon points="663.75,453.75 671.25,453.75 671.25,480.00 663.75,480.00" fill="#505c65" />
<polygon points="668.00,456.25 675.50,456.25 675.50,482.50 668.00,482.50" fill="#8f969b" />
<polygon points="1242.50,592.50 1246.50,596.50 1242.50,600.50 1238.50,596.50" fill="#70777d" />
</g>
<g id="fuel">
<polygon points="1092.00,221.00 1098.00,224.00 1096.00,221.00 1090.00,218.00" fill="#505c65" />
<polygon points="1098.00,224.00 1098.00,244.00 1096.00,241.00 1096.00,221.00" fill="#4b5660" />
<polygon points="1098.00,244.00 1092.00,242.00 1090.00,239.00 1096.00,241.00" fill="#505c65" />
<polygon points="1092.00,242.00 1092.00,221.00 1090.00,218.00 1090.00,239.00" fill="#4b5660" />
<polygon points="1090.00,218.00 1096.00,221.00 1096.00,241.00 1090.00,239.00" fill="#505c65" />
<polygon points="1092.00,221.00 1098.00,224.00 1098.00,244.00 1092.00,242.00" fill="#8f969b" />
<polygon points="1092.00,247.00 1097.00,249.00 1095.00,247.00 1090.00,245.00" fill="#505c65" />
<polygon points="1097.00,249.00 1097.00,254.00 1095.00,252.00 1095.00,247.00" fill="#4b5660" />
<polygon points="1097.00,254.00 1092.00,252.00 1090.00,250.00 1095.00,252.00" fill="#505c65" />
<polygon points="1092.00,252.00 1092.00,247.00 1090.00,245.00 1090.00,250.00" fill="#4b5660" />
<polygon points="1090.00,245.00 1095.00,247.00 1095.00,252.00 1090.00,250.00" fill="#505c65" />
<polygon points="1092.00,247.00 1097.00,249.00 1097.00,254.00 1092.00,252.00" fill="#8f969b" />
<polygon points="1170.50,203.00 1181.00,207.00 1178.00,203.50 1167.50,199.50" fill="#505c65" />
<polygon points="1181.00,207.00 1176.00,221.00 1173.00,217.50 1178.00,203.50" fill="#4b5660" />
<polygon points="1176.00,221.00 1166.00,217.00 1163.00,213.50 1173.00,217.50" fill="#505c65" />
<polygon points="1166.00,217.00 1170.50,203.00 1167.50,199.50 1163.00,213.50" fill="#4b5660" />
<polygon points="1167.50,199.50 1178.00,203.50 1173.00,217.50 1163.00,213.50" fill="#505c65" />
<polygon points="1170.50,203.00 1181.00,207.00 1176.00,221.00 1166.00,217.00" fill="#8f969b" />
<polygon points="1164.00,220.00 1176.00,224.00 1172.50,220.50 1160.50,216.50" fill="#505c65" />
<polygon points="1176.00,224.00 1170.00,242.00 1166.50,238.50 1172.50,220.50" fill="#4b5660" />
<polygon points="1170.00,242.00 1158.00,238.00 1154.50,234.50 1166.50,238.50" fill="#505c65" />
<polygon points="1158.00,238.00 1164.00,220.00 1160.50,216.50 1154.50,234.50" fill="#4b5660" />
<polygon points="1160.50,216.50 1172.50,220.50 1166.50,238.50 1154.50,234.50" fill="#505c65" />
<polygon points="1164.00,220.00 1176.00,224.00 1170.00,242.00 1158.00,238.00" fill="#8f969b" />
<polygon points="1176.00,243.00 1195.00,250.00 1191.50,246.50 1172.50,239.50" fill="#505c65" />
<polygon points="1195.00,250.00 1190.00,264.00 1186.50,260.50 1191.50,246.50" fill="#4b5660" />
<polygon points="1190.00,264.00 1171.00,257.00 1167.50,253.50 1186.50,260.50" fill="#505c65" />
<polygon points="1171.00,257.00 1176.00,243.00 1172.50,239.50 1167.50,253.50" fill="#4b5660" />
<polygon points="1172.50,239.50 1191.50,246.50 1186.50,260.50 1167.50,253.50" fill="#505c65" />
<polygon points="1176.00,243.00 1195.00,250.00 1190.00,264.00 1171.00,257.00" fill="#8f969b" />
<g transform="translate(1164.0,257.5) rotate(-20)">
<rect x="-11" y="-10" width="26" height="20" rx="9" fill="#8f969b"/>
<path d="M-3,-10 A8,10 0 0 0 -3,10 L-5,10 A9,10 0 0 1 -5,-10 Z" fill="#505c65"/>
<ellipse cx="-4" cy="0" rx="7.5" ry="10" fill="#7b8289"/>
</g>
<g transform="translate(1155.5,279.0) rotate(-20)">
<rect x="-11" y="-10" width="26" height="20" rx="9" fill="#8f969b"/>
<path d="M-3,-10 A8,10 0 0 0 -3,10 L-5,10 A9,10 0 0 1 -5,-10 Z" fill="#505c65"/>
<ellipse cx="-4" cy="0" rx="7.5" ry="10" fill="#7b8289"/>
</g>
<g transform="translate(1147.5,299.0) rotate(-20)">
<rect x="-11" y="-10" width="26" height="20" rx="9" fill="#8f969b"/>
<path d="M-3,-10 A8,10 0 0 0 -3,10 L-5,10 A9,10 0 0 1 -5,-10 Z" fill="#505c65"/>
<ellipse cx="-4" cy="0" rx="7.5" ry="10" fill="#7b8289"/>
</g>
<polygon points="1176.00,266.00 1197.00,273.00 1193.50,269.50 1172.50,262.50" fill="#505c65" />
<polygon points="1197.00,273.00 1190.00,294.00 1186.50,290.50 1193.50,269.50" fill="#4b5660" />
<polygon points="1190.00,294.00 1169.00,287.00 1165.50,283.50 1186.50,290.50" fill="#505c65" />
<polygon points="1169.00,287.00 1176.00,266.00 1172.50,262.50 1165.50,283.50" fill="#4b5660" />
<polygon points="1172.50,262.50 1193.50,269.50 1186.50,290.50 1165.50,283.50" fill="#505c65" />
<polygon points="1176.00,266.00 1197.00,273.00 1190.00,294.00 1169.00,287.00" fill="#8f969b" />
<polygon points="1170.00,291.00 1184.00,296.00 1181.00,293.00 1167.00,288.00" fill="#505c65" />
<polygon points="1184.00,296.00 1180.00,306.00 1177.00,303.00 1181.00,293.00" fill="#4b5660" />
<polygon points="1180.00,306.00 1166.00,301.00 1163.00,298.00 1177.00,303.00" fill="#505c65" />
<polygon points="1166.00,301.00 1170.00,291.00 1167.00,288.00 1163.00,298.00" fill="#4b5660" />
<polygon points="1167.00,288.00 1181.00,293.00 1177.00,303.00 1163.00,298.00" fill="#505c65" />
<polygon points="1170.00,291.00 1184.00,296.00 1180.00,306.00 1166.00,301.00" fill="#8f969b" />
<path d="M1190,257 l6,2" stroke="#505c65" stroke-width="1.2"/>
</g>
<g id="maroon" fill="none" stroke="#86083b" stroke-width="3.3" stroke-linejoin="miter">
<path d="M238.75,452 L238.75,193.75 L199,193.75 Q195,193.75 195,190 L195,168 Q196,161 203,160.5 L600,160.5 L600,132 L621,132 L621,160.5 L648,160.5 L652,159.5 L765,159.5 L765,177 L796,177 L836,156 L833,136 L844,129.5 L884,151.5 L884,239.5 L901,235.5 L907,246.5 L932.5,241.5 L934,247 L950,244 L991,226 L980.5,202.5 L1027.5,181.5 L1030,185 L1048.75,176 L1051,161 L1175,111 L1172,97.5 L1285,55.5"/>
<path d="M1090,146 L1078.75,180 L1125,198.75 L1098.75,266 L1072.5,256 L1056,296 L1096,315 L1098.75,323.75 L1112.5,328 L1116,317.5 L1138.75,321 L1196,302.5 L1251,153.5 L1160,117.5"/>
<path d="M238.75,450 L234,453.75 L180.5,453.75 L180.5,542.2 L446,542.2 L448.5,560 L456,567.5 L557.5,567.5 L566,576.5 L600,576.5 L604.7,571 L604.7,508.75 L747.5,508.75 L747.5,576 L890,576 L890,534 L946,534 L946,570 L959,577 L1090.3,577 L1090.3,744.5 L1145,744.5 L1188,758 L1188,821"/>
</g>
<g id="markers">
<rect x="333.75" y="227.70" width="37.30" height="38.30" fill="#86083b" />
<text x="336.35" y="257.60" font-size="30" fill="#fff" stroke="#fff" stroke-width="1.1" stroke-linejoin="round" font-family="Liberation Sans, sans-serif" textLength="17.5" lengthAdjust="spacingAndGlyphs">P</text>
<text x="355.65" y="257.60" font-size="17.20" fill="#fff" stroke="#fff" stroke-width="0.6" font-family="Liberation Sans, sans-serif">8</text>
<rect x="441.50" y="227.70" width="37.30" height="38.30" fill="#e2231a" />
<text x="444.10" y="257.60" font-size="30" fill="#fff" stroke="#fff" stroke-width="1.1" stroke-linejoin="round" font-family="Liberation Sans, sans-serif" textLength="17.5" lengthAdjust="spacingAndGlyphs">P</text>
<text x="463.40" y="257.60" font-size="17.20" fill="#fff" stroke="#fff" stroke-width="0.6" font-family="Liberation Sans, sans-serif">7</text>
<rect x="442.00" y="273.00" width="37.30" height="38.30" fill="#86083b" />
<text x="444.60" y="302.90" font-size="30" fill="#fff" stroke="#fff" stroke-width="1.1" stroke-linejoin="round" font-family="Liberation Sans, sans-serif" textLength="17.5" lengthAdjust="spacingAndGlyphs">P</text>
<text x="463.90" y="302.90" font-size="17.20" fill="#fff" stroke="#fff" stroke-width="0.6" font-family="Liberation Sans, sans-serif">6</text>
<rect x="333.75" y="435.00" width="37.30" height="38.30" fill="#86083b" />
<text x="336.35" y="464.90" font-size="30" fill="#fff" stroke="#fff" stroke-width="1.1" stroke-linejoin="round" font-family="Liberation Sans, sans-serif" textLength="17.5" lengthAdjust="spacingAndGlyphs">P</text>
<text x="355.65" y="464.90" font-size="17.20" fill="#fff" stroke="#fff" stroke-width="0.6" font-family="Liberation Sans, sans-serif">3</text>
<rect x="442.00" y="435.50" width="37.30" height="38.30" fill="#86083b" />
<text x="444.60" y="465.40" font-size="30" fill="#fff" stroke="#fff" stroke-width="1.1" stroke-linejoin="round" font-family="Liberation Sans, sans-serif" textLength="17.5" lengthAdjust="spacingAndGlyphs">P</text>
<text x="463.90" y="465.40" font-size="17.20" fill="#fff" stroke="#fff" stroke-width="0.6" font-family="Liberation Sans, sans-serif">4</text>
<rect x="188.25" y="478.95" width="37.30" height="38.30" fill="#86083b" />
<text x="190.85" y="508.85" font-size="30" fill="#fff" stroke="#fff" stroke-width="1.1" stroke-linejoin="round" font-family="Liberation Sans, sans-serif" textLength="17.5" lengthAdjust="spacingAndGlyphs">P</text>
<text x="210.15" y="508.85" font-size="17.20" fill="#fff" stroke="#fff" stroke-width="0.6" font-family="Liberation Sans, sans-serif">1</text>
<rect x="295.00" y="499.70" width="37.30" height="38.30" fill="#86083b" />
<text x="297.60" y="529.60" font-size="30" fill="#fff" stroke="#fff" stroke-width="1.1" stroke-linejoin="round" font-family="Liberation Sans, sans-serif" textLength="17.5" lengthAdjust="spacingAndGlyphs">P</text>
<text x="316.90" y="529.60" font-size="17.20" fill="#fff" stroke="#fff" stroke-width="0.6" font-family="Liberation Sans, sans-serif">2</text>
<rect x="800.00" y="395.90" width="37.30" height="38.30" fill="#86083b" />
<text x="802.20" y="421.80" font-size="26" fill="#fff" stroke="#fff" stroke-width="1" stroke-linejoin="round" font-family="Liberation Sans, sans-serif" textLength="14.8" lengthAdjust="spacingAndGlyphs">P</text>
<text x="813.40" y="428.00" font-size="15.5" font-weight="bold" fill="#fff" font-family="Liberation Sans, sans-serif" textLength="22.4" lengthAdjust="spacingAndGlyphs">104</text>
<rect x="1117.10" y="608.10" width="37.30" height="38.30" fill="#86083b" />
<text x="1120.40" y="638.20" font-size="30.5" fill="#fff" stroke="#fff" stroke-width="1.1" stroke-linejoin="round" font-family="Liberation Sans, sans-serif" textLength="17.5" lengthAdjust="spacingAndGlyphs">P</text>
<text x="1133.60" y="641.50" font-size="11.6" font-weight="bold" fill="#fff" font-family="Liberation Sans, sans-serif" textLength="19.3" lengthAdjust="spacingAndGlyphs">107</text>
<rect x="243.50" y="332.20" width="37.30" height="38.30" fill="#86083b" />
<text x="246.10" y="362.10" font-size="30" fill="#fff" stroke="#fff" stroke-width="1.1" stroke-linejoin="round" font-family="Liberation Sans, sans-serif" textLength="17.5" lengthAdjust="spacingAndGlyphs">P</text>
<circle cx="270.5" cy="357" r="5.6" fill="#fff"/><path d="M268,358.2 L270,358.8 L273.3,354.8" stroke="#86083b" stroke-width="1.7" fill="none"/>
<rect x="375.50" y="435.50" width="37.30" height="38.30" fill="#86083b" />
<g transform="translate(375.50,435.50)"><path d="M5.5,30 V25 Q5.5,22.6 6.6,22 L10.2,14.6 Q10.7,13.7 11.8,13.7 H25.6 Q26.7,13.7 27.2,14.6 L31,22 Q32.2,22.6 32.2,25 V30 Z" fill="#fff"/><rect x="5.5" y="29" width="5.3" height="4.8" fill="#fff"/><rect x="27" y="29" width="5.2" height="4.8" fill="#fff"/><path d="M12.3,15.6 H25.2 L28.6,22 H9.2 Z" fill="#86083b"/><ellipse cx="10.3" cy="25.3" rx="2" ry="1.1" fill="#86083b"/><ellipse cx="27.5" cy="25.3" rx="2" ry="1.1" fill="#86083b"/><rect x="16.4" y="3.1" width="6.9" height="6.9" rx="1.2" fill="#fff"/><path d="M12.6,5H16.4M12.6,7.9H16.4" stroke="#fff" stroke-width="1.3"/><path d="M23,6.4 H30.5 Q34.5,6.4 34.5,10.5 V19 Q34.5,22 32,22.3" fill="none" stroke="#fff" stroke-width="1.25"/></g>
<rect x="1054.70" y="213.40" width="37.30" height="38.30" fill="#86083b" />
<g transform="translate(1054.70,213.40)"><rect x="7.3" y="4.8" width="16.6" height="28.5" fill="#fff"/><rect x="9.5" y="7" width="11.9" height="7.8" fill="#86083b"/><path d="M23.9,6.8 H24.6 Q25.9,6.8 25.9,8.2 V28 Q25.9,30 28,30 H28.8 Q31,30 31,28 V18 Q31,15.6 28.5,15.4 H25.9" fill="none" stroke="#fff" stroke-width="1.05"/></g>
<circle cx="379.25" cy="174.50" r="19.5" fill="#86083b"/>
<text x="365.70" y="183.90" font-size="27" font-weight="bold" fill="#fff" font-family="Liberation Sans, sans-serif" textLength="26.5" lengthAdjust="spacingAndGlyphs">T2</text>
<circle cx="189.50" cy="383.75" r="19.5" fill="#86083b"/>
<text x="177.20" y="393.15" font-size="27" font-weight="bold" fill="#fff" font-family="Liberation Sans, sans-serif" textLength="24.0" lengthAdjust="spacingAndGlyphs">T1</text>
<text x="281" y="181" font-size="16.5" fill="#fff" font-family="Liberation Sans, sans-serif" textLength="73" lengthAdjust="spacingAndGlyphs" stroke="#fff" stroke-width="0.8">Terminal</text>
<text x="151.3" y="356.4" font-size="16.5" fill="#fff" font-family="Liberation Sans, sans-serif" textLength="73" lengthAdjust="spacingAndGlyphs" stroke="#fff" stroke-width="0.8">Terminal</text>
</g>
<g id="planes">
<path d="M1,0 C1,-0.09 0.86,-0.125 0.68,-0.125 L0.46,-0.125 C0.3,-0.35 0.08,-0.7 -0.1,-0.86 L-0.31,-0.86 C-0.25,-0.6 -0.12,-0.35 -0.04,-0.125 L-0.6,-0.1 C-0.7,-0.2 -0.8,-0.36 -0.88,-0.44 L-1.03,-0.44 C-0.98,-0.3 -0.9,-0.12 -0.86,0 C-0.9,0.12 -0.98,0.3 -1.03,0.44 L-0.88,0.44 C-0.8,0.36 -0.7,0.2 -0.6,0.1 L-0.04,0.125 C-0.12,0.35 -0.25,0.6 -0.31,0.86 L-0.1,0.86 C0.08,0.7 0.3,0.35 0.46,0.125 L0.68,0.125 C0.86,0.125 1,0.09 1,0 Z" fill="#8f969b" transform="translate(223.00,85.50) rotate(90.0) scale(15.00)"/>
<path d="M1,0 C1,-0.09 0.86,-0.125 0.68,-0.125 L0.46,-0.125 C0.3,-0.35 0.08,-0.7 -0.1,-0.86 L-0.31,-0.86 C-0.25,-0.6 -0.12,-0.35 -0.04,-0.125 L-0.6,-0.1 C-0.7,-0.2 -0.8,-0.36 -0.88,-0.44 L-1.03,-0.44 C-0.98,-0.3 -0.9,-0.12 -0.86,0 C-0.9,0.12 -0.98,0.3 -1.03,0.44 L-0.88,0.44 C-0.8,0.36 -0.7,0.2 -0.6,0.1 L-0.04,0.125 C-0.12,0.35 -0.25,0.6 -0.31,0.86 L-0.1,0.86 C0.08,0.7 0.3,0.35 0.46,0.125 L0.68,0.125 C0.86,0.125 1,0.09 1,0 Z" fill="#8f969b" transform="translate(271.00,85.50) rotate(90.0) scale(15.00)"/>
<path d="M1,0 C1,-0.09 0.86,-0.125 0.68,-0.125 L0.46,-0.125 C0.3,-0.35 0.08,-0.7 -0.1,-0.86 L-0.31,-0.86 C-0.25,-0.6 -0.12,-0.35 -0.04,-0.125 L-0.6,-0.1 C-0.7,-0.2 -0.8,-0.36 -0.88,-0.44 L-1.03,-0.44 C-0.98,-0.3 -0.9,-0.12 -0.86,0 C-0.9,0.12 -0.98,0.3 -1.03,0.44 L-0.88,0.44 C-0.8,0.36 -0.7,0.2 -0.6,0.1 L-0.04,0.125 C-0.12,0.35 -0.25,0.6 -0.31,0.86 L-0.1,0.86 C0.08,0.7 0.3,0.35 0.46,0.125 L0.68,0.125 C0.86,0.125 1,0.09 1,0 Z" fill="#8f969b" transform="translate(82.00,151.00) rotate(0.0) scale(15.00)"/>
<path d="M1,0 C1,-0.09 0.86,-0.125 0.68,-0.125 L0.46,-0.125 C0.3,-0.35 0.08,-0.7 -0.1,-0.86 L-0.31,-0.86 C-0.25,-0.6 -0.12,-0.35 -0.04,-0.125 L-0.6,-0.1 C-0.7,-0.2 -0.8,-0.36 -0.88,-0.44 L-1.03,-0.44 C-0.98,-0.3 -0.9,-0.12 -0.86,0 C-0.9,0.12 -0.98,0.3 -1.03,0.44 L-0.88,0.44 C-0.8,0.36 -0.7,0.2 -0.6,0.1 L-0.04,0.125 C-0.12,0.35 -0.25,0.6 -0.31,0.86 L-0.1,0.86 C0.08,0.7 0.3,0.35 0.46,0.125 L0.68,0.125 C0.86,0.125 1,0.09 1,0 Z" fill="#8f969b" transform="translate(82.00,208.00) rotate(0.0) scale(15.00)"/>
<path d="M1,0 C1,-0.09 0.86,-0.125 0.68,-0.125 L0.46,-0.125 C0.3,-0.35 0.08,-0.7 -0.1,-0.86 L-0.31,-0.86 C-0.25,-0.6 -0.12,-0.35 -0.04,-0.125 L-0.6,-0.1 C-0.7,-0.2 -0.8,-0.36 -0.88,-0.44 L-1.03,-0.44 C-0.98,-0.3 -0.9,-0.12 -0.86,0 C-0.9,0.12 -0.98,0.3 -1.03,0.44 L-0.88,0.44 C-0.8,0.36 -0.7,0.2 -0.6,0.1 L-0.04,0.125 C-0.12,0.35 -0.25,0.6 -0.31,0.86 L-0.1,0.86 C0.08,0.7 0.3,0.35 0.46,0.125 L0.68,0.125 C0.86,0.125 1,0.09 1,0 Z" fill="#8f969b" transform="translate(74.50,261.50) rotate(0.0) scale(26.50)"/>
<path d="M1,0 C1,-0.09 0.86,-0.125 0.68,-0.125 L0.46,-0.125 C0.3,-0.35 0.08,-0.7 -0.1,-0.86 L-0.31,-0.86 C-0.25,-0.6 -0.12,-0.35 -0.04,-0.125 L-0.6,-0.1 C-0.7,-0.2 -0.8,-0.36 -0.88,-0.44 L-1.03,-0.44 C-0.98,-0.3 -0.9,-0.12 -0.86,0 C-0.9,0.12 -0.98,0.3 -1.03,0.44 L-0.88,0.44 C-0.8,0.36 -0.7,0.2 -0.6,0.1 L-0.04,0.125 C-0.12,0.35 -0.25,0.6 -0.31,0.86 L-0.1,0.86 C0.08,0.7 0.3,0.35 0.46,0.125 L0.68,0.125 C0.86,0.125 1,0.09 1,0 Z" fill="#8f969b" transform="translate(74.50,449.00) rotate(0.0) scale(26.50)"/>
<path d="M1,0 C1,-0.09 0.86,-0.125 0.68,-0.125 L0.46,-0.125 C0.3,-0.35 0.08,-0.7 -0.1,-0.86 L-0.31,-0.86 C-0.25,-0.6 -0.12,-0.35 -0.04,-0.125 L-0.6,-0.1 C-0.7,-0.2 -0.8,-0.36 -0.88,-0.44 L-1.03,-0.44 C-0.98,-0.3 -0.9,-0.12 -0.86,0 C-0.9,0.12 -0.98,0.3 -1.03,0.44 L-0.88,0.44 C-0.8,0.36 -0.7,0.2 -0.6,0.1 L-0.04,0.125 C-0.12,0.35 -0.25,0.6 -0.31,0.86 L-0.1,0.86 C0.08,0.7 0.3,0.35 0.46,0.125 L0.68,0.125 C0.86,0.125 1,0.09 1,0 Z" fill="#8f969b" transform="translate(152.00,624.00) rotate(-45.0) scale(27.00)"/>
<path d="M1,0 C1,-0.09 0.86,-0.125 0.68,-0.125 L0.46,-0.125 C0.3,-0.35 0.08,-0.7 -0.1,-0.86 L-0.31,-0.86 C-0.25,-0.6 -0.12,-0.35 -0.04,-0.125 L-0.6,-0.1 C-0.7,-0.2 -0.8,-0.36 -0.88,-0.44 L-1.03,-0.44 C-0.98,-0.3 -0.9,-0.12 -0.86,0 C-0.9,0.12 -0.98,0.3 -1.03,0.44 L-0.88,0.44 C-0.8,0.36 -0.7,0.2 -0.6,0.1 L-0.04,0.125 C-0.12,0.35 -0.25,0.6 -0.31,0.86 L-0.1,0.86 C0.08,0.7 0.3,0.35 0.46,0.125 L0.68,0.125 C0.86,0.125 1,0.09 1,0 Z" fill="#8f969b" transform="translate(315.00,603.00) rotate(-90.0) scale(14.00)"/>
</g>
<g id="legend" font-family="Liberation Sans, sans-serif" font-size="16.2" fill="#111">
<text x="58.0" y="743.0" font-weight="bold" textLength="169.6" lengthAdjust="spacingAndGlyphs">Parkhäuser und -plätze</text>
<text x="232.5" y="742.5" font-weight="normal">|</text>
<text x="241.0" y="743.0" textLength="191.0" lengthAdjust="spacingAndGlyphs">Car Parks and Parking Lots</text>
<text x="58.0" y="771.0" font-weight="bold" textLength="127.6" lengthAdjust="spacingAndGlyphs">Kurzzeitparkplatz</text>
<text x="191.5" y="770.5" font-weight="bold">|</text>
<text x="199.5" y="771.0" textLength="138.0" lengthAdjust="spacingAndGlyphs">Short-Term Parking</text>
<text x="58.0" y="798.6" font-weight="bold" textLength="73.0" lengthAdjust="spacingAndGlyphs">Tankstelle</text>
<text x="136.5" y="798.1" font-weight="bold">|</text>
<text x="145.0" y="798.6" textLength="79.0" lengthAdjust="spacingAndGlyphs">Gas Station</text>
<text x="58.0" y="826.4" font-weight="bold" textLength="80.7" lengthAdjust="spacingAndGlyphs">Ladesäulen</text>
<text x="144.0" y="825.9" font-weight="bold">|</text>
<text x="153.7" y="826.4" textLength="147.3" lengthAdjust="spacingAndGlyphs">EV Charging Stations</text>
<rect x="26.00" y="729.00" width="19.00" height="18.70" fill="#86083b" />
<rect x="26.00" y="756.30" width="19.00" height="18.70" fill="#86083b" />
<rect x="26.00" y="784.00" width="19.00" height="18.70" fill="#86083b" />
<rect x="26.00" y="811.75" width="19.00" height="18.70" fill="#86083b" />
<text x="28" y="743.8" font-size="14.5" font-weight="bold" fill="#fff">P</text><text x="37.5" y="744.5" font-size="8" font-weight="bold" fill="#fff">x</text>
<text x="28" y="771.2" font-size="14.5" font-weight="bold" fill="#fff">P</text><circle cx="40.3" cy="769" r="2.5" fill="#fff"/><path d="M39.2,769.3l0.9,0.8l1.5,-1.8" stroke="#86083b" stroke-width="0.8" fill="none"/>
<g transform="translate(26,784) scale(0.5)"><rect x="7.3" y="4.8" width="16.6" height="28.5" fill="#fff"/><rect x="9.5" y="7" width="11.9" height="7.8" fill="#86083b"/><path d="M23.9,6.8 H24.6 Q25.9,6.8 25.9,8.2 V28 Q25.9,30 28,30 H28.8 Q31,30 31,28 V18 Q31,15.6 28.5,15.4 H25.9" fill="none" stroke="#fff" stroke-width="1.05"/></g>
<g transform="translate(26,811.75) scale(0.5)"><path d="M5.5,30 V25 Q5.5,22.6 6.6,22 L10.2,14.6 Q10.7,13.7 11.8,13.7 H25.6 Q26.7,13.7 27.2,14.6 L31,22 Q32.2,22.6 32.2,25 V30 Z" fill="#fff"/><rect x="5.5" y="29" width="5.3" height="4.8" fill="#fff"/><rect x="27" y="29" width="5.2" height="4.8" fill="#fff"/><path d="M12.3,15.6 H25.2 L28.6,22 H9.2 Z" fill="#86083b"/><ellipse cx="10.3" cy="25.3" rx="2" ry="1.1" fill="#86083b"/><ellipse cx="27.5" cy="25.3" rx="2" ry="1.1" fill="#86083b"/><rect x="16.4" y="3.1" width="6.9" height="6.9" rx="1.2" fill="#fff"/><path d="M12.6,5H16.4M12.6,7.9H16.4" stroke="#fff" stroke-width="1.3"/><path d="M23,6.4 H30.5 Q34.5,6.4 34.5,10.5 V19 Q34.5,22 32,22.3" fill="none" stroke="#fff" stroke-width="1.25"/></g>
</g>
</svg>
</body></html>
